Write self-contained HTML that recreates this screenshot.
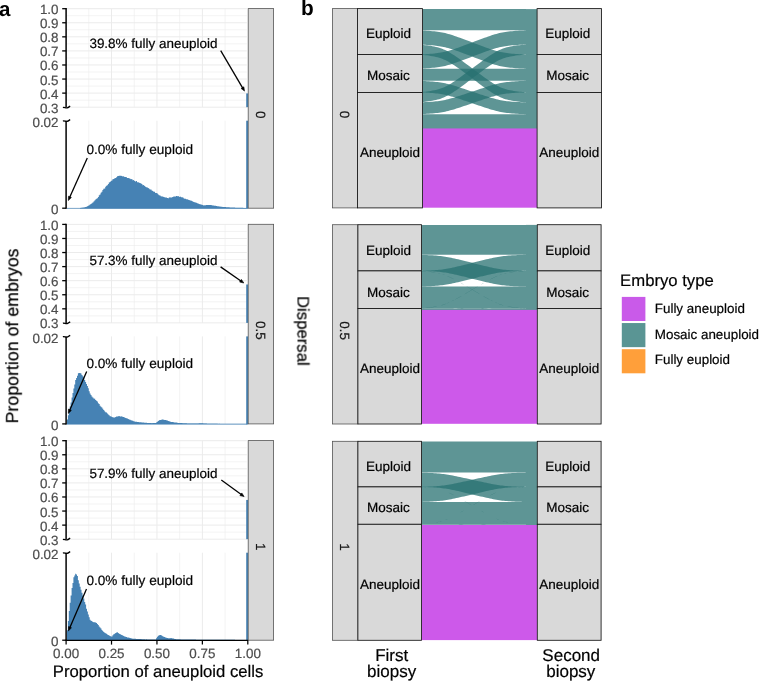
<!DOCTYPE html>
<html><head><meta charset="utf-8"><title>Figure</title>
<style>
html,body{margin:0;padding:0;background:#fff;}
body{width:759px;height:681px;overflow:hidden;font-family:"Liberation Sans",sans-serif;}
svg{display:block;will-change:transform;}
</style></head><body>
<svg width="759" height="681" viewBox="0 0 759 681">
<rect width="759" height="681" fill="#fff"/>
<defs><clipPath id="fc"><rect x="422.9" y="0" width="103.1" height="681"/></clipPath></defs>
<g font-family="Liberation Sans, sans-serif" style="opacity:0.999" text-rendering="geometricPrecision">
<line x1="66.70" y1="8.70" x2="246.80" y2="8.70" stroke="#EBEBEB" stroke-width="1.0" stroke-linecap="butt"/>
<line x1="66.70" y1="15.73" x2="246.80" y2="15.73" stroke="#EBEBEB" stroke-width="0.6" stroke-linecap="butt"/>
<line x1="66.70" y1="22.77" x2="246.80" y2="22.77" stroke="#EBEBEB" stroke-width="1.0" stroke-linecap="butt"/>
<line x1="66.70" y1="29.80" x2="246.80" y2="29.80" stroke="#EBEBEB" stroke-width="0.6" stroke-linecap="butt"/>
<line x1="66.70" y1="36.84" x2="246.80" y2="36.84" stroke="#EBEBEB" stroke-width="1.0" stroke-linecap="butt"/>
<line x1="66.70" y1="43.88" x2="246.80" y2="43.88" stroke="#EBEBEB" stroke-width="0.6" stroke-linecap="butt"/>
<line x1="66.70" y1="50.91" x2="246.80" y2="50.91" stroke="#EBEBEB" stroke-width="1.0" stroke-linecap="butt"/>
<line x1="66.70" y1="57.95" x2="246.80" y2="57.95" stroke="#EBEBEB" stroke-width="0.6" stroke-linecap="butt"/>
<line x1="66.70" y1="64.98" x2="246.80" y2="64.98" stroke="#EBEBEB" stroke-width="1.0" stroke-linecap="butt"/>
<line x1="66.70" y1="72.02" x2="246.80" y2="72.02" stroke="#EBEBEB" stroke-width="0.6" stroke-linecap="butt"/>
<line x1="66.70" y1="79.05" x2="246.80" y2="79.05" stroke="#EBEBEB" stroke-width="1.0" stroke-linecap="butt"/>
<line x1="66.70" y1="86.09" x2="246.80" y2="86.09" stroke="#EBEBEB" stroke-width="0.6" stroke-linecap="butt"/>
<line x1="66.70" y1="93.12" x2="246.80" y2="93.12" stroke="#EBEBEB" stroke-width="1.0" stroke-linecap="butt"/>
<line x1="66.70" y1="100.16" x2="246.80" y2="100.16" stroke="#EBEBEB" stroke-width="0.6" stroke-linecap="butt"/>
<line x1="66.70" y1="107.19" x2="246.80" y2="107.19" stroke="#EBEBEB" stroke-width="1.0" stroke-linecap="butt"/>
<line x1="88.81" y1="8.70" x2="88.81" y2="107.20" stroke="#EBEBEB" stroke-width="0.6" stroke-linecap="butt"/>
<line x1="88.81" y1="120.70" x2="88.81" y2="208.20" stroke="#EBEBEB" stroke-width="0.6" stroke-linecap="butt"/>
<line x1="111.52" y1="8.70" x2="111.52" y2="107.20" stroke="#EBEBEB" stroke-width="1.0" stroke-linecap="butt"/>
<line x1="111.52" y1="120.70" x2="111.52" y2="208.20" stroke="#EBEBEB" stroke-width="1.0" stroke-linecap="butt"/>
<line x1="134.24" y1="8.70" x2="134.24" y2="107.20" stroke="#EBEBEB" stroke-width="0.6" stroke-linecap="butt"/>
<line x1="134.24" y1="120.70" x2="134.24" y2="208.20" stroke="#EBEBEB" stroke-width="0.6" stroke-linecap="butt"/>
<line x1="156.95" y1="8.70" x2="156.95" y2="107.20" stroke="#EBEBEB" stroke-width="1.0" stroke-linecap="butt"/>
<line x1="156.95" y1="120.70" x2="156.95" y2="208.20" stroke="#EBEBEB" stroke-width="1.0" stroke-linecap="butt"/>
<line x1="179.66" y1="8.70" x2="179.66" y2="107.20" stroke="#EBEBEB" stroke-width="0.6" stroke-linecap="butt"/>
<line x1="179.66" y1="120.70" x2="179.66" y2="208.20" stroke="#EBEBEB" stroke-width="0.6" stroke-linecap="butt"/>
<line x1="202.37" y1="8.70" x2="202.37" y2="107.20" stroke="#EBEBEB" stroke-width="1.0" stroke-linecap="butt"/>
<line x1="202.37" y1="120.70" x2="202.37" y2="208.20" stroke="#EBEBEB" stroke-width="1.0" stroke-linecap="butt"/>
<line x1="225.09" y1="8.70" x2="225.09" y2="107.20" stroke="#EBEBEB" stroke-width="0.6" stroke-linecap="butt"/>
<line x1="225.09" y1="120.70" x2="225.09" y2="208.20" stroke="#EBEBEB" stroke-width="0.6" stroke-linecap="butt"/>
<path d="M80.0,208.6 L80.0,207.9 L80.6,207.9 L80.6,207.8 L81.5,207.8 L81.5,207.7 L82.5,207.7 L82.5,207.5 L83.4,207.5 L83.4,207.4 L84.3,207.4 L84.3,207.2 L85.2,207.2 L85.2,206.9 L86.1,206.9 L86.1,206.7 L87.0,206.7 L87.0,206.3 L87.9,206.3 L87.9,205.7 L88.8,205.7 L88.8,205.2 L89.7,205.2 L89.7,204.5 L90.6,204.5 L90.6,204.0 L91.5,204.0 L91.5,203.3 L92.4,203.3 L92.4,202.5 L93.4,202.5 L93.4,201.6 L94.3,201.6 L94.3,200.4 L95.2,200.4 L95.2,199.6 L96.1,199.6 L96.1,198.7 L97.0,198.7 L97.0,198.3 L97.9,198.3 L97.9,197.0 L98.8,197.0 L98.8,195.3 L99.7,195.3 L99.7,194.5 L100.6,194.5 L100.6,192.7 L101.5,192.7 L101.5,191.8 L102.4,191.8 L102.4,190.1 L103.3,190.1 L103.3,188.8 L104.3,188.8 L104.3,188.4 L105.2,188.4 L105.2,186.8 L106.1,186.8 L106.1,185.7 L107.0,185.7 L107.0,185.2 L107.9,185.2 L107.9,184.0 L108.8,184.0 L108.8,182.4 L109.7,182.4 L109.7,182.1 L110.6,182.1 L110.6,181.0 L111.5,181.0 L111.5,180.4 L112.4,180.4 L112.4,179.3 L113.3,179.3 L113.3,179.1 L114.3,179.1 L114.3,178.3 L115.2,178.3 L115.2,177.9 L116.1,177.9 L116.1,177.2 L117.0,177.2 L117.0,176.3 L117.9,176.3 L117.9,176.0 L118.8,176.0 L118.8,175.7 L119.7,175.7 L119.7,175.8 L120.6,175.8 L120.6,175.8 L121.5,175.8 L121.5,176.1 L122.4,176.1 L122.4,176.6 L123.3,176.6 L123.3,176.2 L124.2,176.2 L124.2,177.0 L125.2,177.0 L125.2,177.0 L126.1,177.0 L126.1,177.3 L127.0,177.3 L127.0,178.0 L127.9,178.0 L127.9,178.1 L128.8,178.1 L128.8,178.3 L129.7,178.3 L129.7,178.7 L130.6,178.7 L130.6,179.2 L131.5,179.2 L131.5,179.1 L132.4,179.1 L132.4,180.2 L133.3,180.2 L133.3,179.9 L134.2,179.9 L134.2,180.9 L135.1,180.9 L135.1,181.4 L136.1,181.4 L136.1,181.1 L137.0,181.1 L137.0,182.2 L137.9,182.2 L137.9,182.2 L138.8,182.2 L138.8,182.8 L139.7,182.8 L139.7,182.9 L140.6,182.9 L140.6,183.4 L141.5,183.4 L141.5,184.1 L142.4,184.1 L142.4,185.2 L143.3,185.2 L143.3,185.1 L144.2,185.1 L144.2,186.1 L145.1,186.1 L145.1,186.8 L146.0,186.8 L146.0,187.3 L147.0,187.3 L147.0,187.4 L147.9,187.4 L147.9,188.0 L148.8,188.0 L148.8,188.7 L149.7,188.7 L149.7,189.4 L150.6,189.4 L150.6,189.5 L151.5,189.5 L151.5,190.5 L152.4,190.5 L152.4,191.1 L153.3,191.1 L153.3,191.8 L154.2,191.8 L154.2,191.7 L155.1,191.7 L155.1,193.0 L156.0,193.0 L156.0,192.9 L156.9,192.9 L156.9,193.6 L157.9,193.6 L157.9,194.4 L158.8,194.4 L158.8,195.3 L159.7,195.3 L159.7,195.4 L160.6,195.4 L160.6,196.3 L161.5,196.3 L161.5,196.4 L162.4,196.4 L162.4,196.6 L163.3,196.6 L163.3,197.0 L164.2,197.0 L164.2,197.3 L165.1,197.3 L165.1,197.4 L166.0,197.4 L166.0,197.6 L166.9,197.6 L166.9,198.1 L167.9,198.1 L167.9,198.2 L168.8,198.2 L168.8,197.4 L169.7,197.4 L169.7,197.2 L170.6,197.2 L170.6,197.8 L171.5,197.8 L171.5,197.3 L172.4,197.3 L172.4,196.9 L173.3,196.9 L173.3,196.5 L174.2,196.5 L174.2,196.4 L175.1,196.4 L175.1,196.4 L176.0,196.4 L176.0,196.1 L176.9,196.1 L176.9,196.2 L177.8,196.2 L177.8,196.0 L178.8,196.0 L178.8,196.9 L179.7,196.9 L179.7,196.4 L180.6,196.4 L180.6,196.9 L181.5,196.9 L181.5,197.5 L182.4,197.5 L182.4,197.3 L183.3,197.3 L183.3,198.2 L184.2,198.2 L184.2,198.7 L185.1,198.7 L185.1,198.8 L186.0,198.8 L186.0,199.3 L186.9,199.3 L186.9,199.2 L187.8,199.2 L187.8,199.7 L188.7,199.7 L188.7,199.9 L189.7,199.9 L189.7,200.6 L190.6,200.6 L190.6,200.6 L191.5,200.6 L191.5,201.0 L192.4,201.0 L192.4,201.6 L193.3,201.6 L193.3,201.9 L194.2,201.9 L194.2,202.3 L195.1,202.3 L195.1,202.4 L196.0,202.4 L196.0,202.8 L196.9,202.8 L196.9,203.3 L197.8,203.3 L197.8,203.6 L198.7,203.6 L198.7,203.9 L199.6,203.9 L199.6,204.2 L200.6,204.2 L200.6,204.4 L201.5,204.4 L201.5,204.7 L202.4,204.7 L202.4,205.1 L203.3,205.1 L203.3,205.4 L204.2,205.4 L204.2,205.3 L205.1,205.3 L205.1,205.2 L206.0,205.2 L206.0,205.0 L206.9,205.0 L206.9,204.9 L207.8,204.9 L207.8,204.9 L208.7,204.9 L208.7,205.0 L209.6,205.0 L209.6,205.1 L210.6,205.1 L210.6,205.1 L211.5,205.1 L211.5,205.3 L212.4,205.3 L212.4,205.4 L213.3,205.4 L213.3,205.5 L214.2,205.5 L214.2,205.7 L215.1,205.7 L215.1,205.8 L216.0,205.8 L216.0,205.9 L216.9,205.9 L216.9,206.2 L217.8,206.2 L217.8,206.3 L218.7,206.3 L218.7,206.5 L219.6,206.5 L219.6,206.6 L220.5,206.6 L220.5,206.7 L221.5,206.7 L221.5,206.7 L222.4,206.7 L222.4,206.9 L223.3,206.9 L223.3,206.9 L224.2,206.9 L224.2,207.0 L225.1,207.0 L225.1,207.1 L226.0,207.1 L226.0,207.2 L226.9,207.2 L226.9,207.2 L227.8,207.2 L227.8,207.3 L228.7,207.3 L228.7,207.3 L229.6,207.3 L229.6,207.4 L230.5,207.4 L230.5,207.4 L231.4,207.4 L231.4,207.5 L232.4,207.5 L232.4,207.5 L233.3,207.5 L233.3,207.6 L234.2,207.6 L234.2,207.6 L235.1,207.6 L235.1,207.7 L236.0,207.7 L236.0,207.7 L236.9,207.7 L236.9,207.7 L237.8,207.7 L237.8,207.8 L238.7,207.8 L238.7,207.8 L239.6,207.8 L239.6,207.8 L240.5,207.8 L240.5,207.8 L241.4,207.8 L241.4,207.8 L242.3,207.8 L242.3,207.8 L243.3,207.8 L243.3,207.9 L244.2,207.9 L244.2,207.9 L245.1,207.9 L245.1,207.9 L246.0,207.9 L246.0,207.9 L246.0,207.9 L246.0,208.6 Z" fill="#4682B4"/>
<rect x="66.5" y="207.90" width="181" height="0.9" fill="#4682B4" opacity="0.8"/>
<rect x="246.2" y="93.40" width="2.0" height="13.80" fill="#4682B4"/>
<rect x="246.2" y="120.70" width="2.0" height="88.00" fill="#4682B4"/>
<line x1="66.10" y1="8.05" x2="66.10" y2="107.20" stroke="#000" stroke-width="1.5" stroke-linecap="butt"/>
<line x1="66.10" y1="120.70" x2="66.10" y2="208.85" stroke="#000" stroke-width="1.5" stroke-linecap="butt"/>
<line x1="62.20" y1="8.70" x2="66.10" y2="8.70" stroke="#000" stroke-width="1.3" stroke-linecap="butt"/>
<line x1="62.20" y1="22.77" x2="66.10" y2="22.77" stroke="#000" stroke-width="1.3" stroke-linecap="butt"/>
<line x1="62.20" y1="36.84" x2="66.10" y2="36.84" stroke="#000" stroke-width="1.3" stroke-linecap="butt"/>
<line x1="62.20" y1="50.91" x2="66.10" y2="50.91" stroke="#000" stroke-width="1.3" stroke-linecap="butt"/>
<line x1="62.20" y1="64.98" x2="66.10" y2="64.98" stroke="#000" stroke-width="1.3" stroke-linecap="butt"/>
<line x1="62.20" y1="79.05" x2="66.10" y2="79.05" stroke="#000" stroke-width="1.3" stroke-linecap="butt"/>
<line x1="62.20" y1="93.12" x2="66.10" y2="93.12" stroke="#000" stroke-width="1.3" stroke-linecap="butt"/>
<line x1="62.20" y1="208.20" x2="66.10" y2="208.20" stroke="#000" stroke-width="1.3" stroke-linecap="butt"/>
<path d="M62.9,107.55 C64.5,107.10 65.6,108.30 67.2,107.90 C68.4,107.60 69.2,106.70 70.2,106.20" fill="none" stroke="#000" stroke-width="1.3"/>
<path d="M62.9,121.05 C64.5,120.60 65.6,121.80 67.2,121.40 C68.4,121.10 69.2,120.20 70.2,119.70" fill="none" stroke="#000" stroke-width="1.3"/>
<text x="58.5" y="14.2" font-size="13.4" fill="#4D4D4D" stroke="#4D4D4D" stroke-width="0.2" text-anchor="end" >1.0</text>
<text x="58.5" y="28.27" font-size="13.4" fill="#4D4D4D" stroke="#4D4D4D" stroke-width="0.2" text-anchor="end" >0.9</text>
<text x="58.5" y="42.34" font-size="13.4" fill="#4D4D4D" stroke="#4D4D4D" stroke-width="0.2" text-anchor="end" >0.8</text>
<text x="58.5" y="56.41" font-size="13.4" fill="#4D4D4D" stroke="#4D4D4D" stroke-width="0.2" text-anchor="end" >0.7</text>
<text x="58.5" y="70.48" font-size="13.4" fill="#4D4D4D" stroke="#4D4D4D" stroke-width="0.2" text-anchor="end" >0.6</text>
<text x="58.5" y="84.55" font-size="13.4" fill="#4D4D4D" stroke="#4D4D4D" stroke-width="0.2" text-anchor="end" >0.5</text>
<text x="58.5" y="98.62" font-size="13.4" fill="#4D4D4D" stroke="#4D4D4D" stroke-width="0.2" text-anchor="end" >0.4</text>
<text x="58.5" y="112.69000000000001" font-size="13.4" fill="#4D4D4D" stroke="#4D4D4D" stroke-width="0.2" text-anchor="end" >0.3</text>
<text x="58.5" y="127.0" font-size="13.4" fill="#4D4D4D" stroke="#4D4D4D" stroke-width="0.2" text-anchor="end" >0.02</text>
<text x="58.5" y="213.79999999999998" font-size="13.4" fill="#4D4D4D" stroke="#4D4D4D" stroke-width="0.2" text-anchor="end" >0</text>
<rect x="248.2" y="8.60" width="25.40" height="199.60" fill="#D9D9D9" stroke="#555" stroke-width="0.8"/>
<text x="255.9" y="114.65" font-size="13.4" fill="#1a1a1a" stroke="#1a1a1a" stroke-width="0.2" text-anchor="middle" transform="rotate(90 255.9 114.65)" >0</text>
<text x="89.4" y="48.1" font-size="13.48" fill="#000" stroke="#000" stroke-width="0.2" text-anchor="start" >39.8% fully aneuploid</text>
<line x1="220.70" y1="50.60" x2="242.73" y2="88.08" stroke="#000" stroke-width="1.3" stroke-linecap="butt"/>
<polygon points="244.50,91.10 241.09,88.46 243.85,86.84" fill="#000" stroke="#000" stroke-width="0.6" stroke-linejoin="miter"/>
<text x="86.4" y="154.0" font-size="13.62" fill="#000" stroke="#000" stroke-width="0.2" text-anchor="start" >0.0% fully euploid</text>
<line x1="87.30" y1="158.10" x2="69.73" y2="197.31" stroke="#000" stroke-width="1.3" stroke-linecap="butt"/>
<polygon points="68.30,200.50 68.48,196.20 71.40,197.50" fill="#000" stroke="#000" stroke-width="0.6" stroke-linejoin="miter"/>
<line x1="66.70" y1="224.40" x2="246.80" y2="224.40" stroke="#EBEBEB" stroke-width="1.0" stroke-linecap="butt"/>
<line x1="66.70" y1="231.44" x2="246.80" y2="231.44" stroke="#EBEBEB" stroke-width="0.6" stroke-linecap="butt"/>
<line x1="66.70" y1="238.47" x2="246.80" y2="238.47" stroke="#EBEBEB" stroke-width="1.0" stroke-linecap="butt"/>
<line x1="66.70" y1="245.50" x2="246.80" y2="245.50" stroke="#EBEBEB" stroke-width="0.6" stroke-linecap="butt"/>
<line x1="66.70" y1="252.54" x2="246.80" y2="252.54" stroke="#EBEBEB" stroke-width="1.0" stroke-linecap="butt"/>
<line x1="66.70" y1="259.57" x2="246.80" y2="259.57" stroke="#EBEBEB" stroke-width="0.6" stroke-linecap="butt"/>
<line x1="66.70" y1="266.61" x2="246.80" y2="266.61" stroke="#EBEBEB" stroke-width="1.0" stroke-linecap="butt"/>
<line x1="66.70" y1="273.64" x2="246.80" y2="273.64" stroke="#EBEBEB" stroke-width="0.6" stroke-linecap="butt"/>
<line x1="66.70" y1="280.68" x2="246.80" y2="280.68" stroke="#EBEBEB" stroke-width="1.0" stroke-linecap="butt"/>
<line x1="66.70" y1="287.72" x2="246.80" y2="287.72" stroke="#EBEBEB" stroke-width="0.6" stroke-linecap="butt"/>
<line x1="66.70" y1="294.75" x2="246.80" y2="294.75" stroke="#EBEBEB" stroke-width="1.0" stroke-linecap="butt"/>
<line x1="66.70" y1="301.79" x2="246.80" y2="301.79" stroke="#EBEBEB" stroke-width="0.6" stroke-linecap="butt"/>
<line x1="66.70" y1="308.82" x2="246.80" y2="308.82" stroke="#EBEBEB" stroke-width="1.0" stroke-linecap="butt"/>
<line x1="66.70" y1="315.86" x2="246.80" y2="315.86" stroke="#EBEBEB" stroke-width="0.6" stroke-linecap="butt"/>
<line x1="66.70" y1="322.89" x2="246.80" y2="322.89" stroke="#EBEBEB" stroke-width="1.0" stroke-linecap="butt"/>
<line x1="88.81" y1="224.40" x2="88.81" y2="322.90" stroke="#EBEBEB" stroke-width="0.6" stroke-linecap="butt"/>
<line x1="88.81" y1="336.40" x2="88.81" y2="423.90" stroke="#EBEBEB" stroke-width="0.6" stroke-linecap="butt"/>
<line x1="111.52" y1="224.40" x2="111.52" y2="322.90" stroke="#EBEBEB" stroke-width="1.0" stroke-linecap="butt"/>
<line x1="111.52" y1="336.40" x2="111.52" y2="423.90" stroke="#EBEBEB" stroke-width="1.0" stroke-linecap="butt"/>
<line x1="134.24" y1="224.40" x2="134.24" y2="322.90" stroke="#EBEBEB" stroke-width="0.6" stroke-linecap="butt"/>
<line x1="134.24" y1="336.40" x2="134.24" y2="423.90" stroke="#EBEBEB" stroke-width="0.6" stroke-linecap="butt"/>
<line x1="156.95" y1="224.40" x2="156.95" y2="322.90" stroke="#EBEBEB" stroke-width="1.0" stroke-linecap="butt"/>
<line x1="156.95" y1="336.40" x2="156.95" y2="423.90" stroke="#EBEBEB" stroke-width="1.0" stroke-linecap="butt"/>
<line x1="179.66" y1="224.40" x2="179.66" y2="322.90" stroke="#EBEBEB" stroke-width="0.6" stroke-linecap="butt"/>
<line x1="179.66" y1="336.40" x2="179.66" y2="423.90" stroke="#EBEBEB" stroke-width="0.6" stroke-linecap="butt"/>
<line x1="202.37" y1="224.40" x2="202.37" y2="322.90" stroke="#EBEBEB" stroke-width="1.0" stroke-linecap="butt"/>
<line x1="202.37" y1="336.40" x2="202.37" y2="423.90" stroke="#EBEBEB" stroke-width="1.0" stroke-linecap="butt"/>
<line x1="225.09" y1="224.40" x2="225.09" y2="322.90" stroke="#EBEBEB" stroke-width="0.6" stroke-linecap="butt"/>
<line x1="225.09" y1="336.40" x2="225.09" y2="423.90" stroke="#EBEBEB" stroke-width="0.6" stroke-linecap="butt"/>
<path d="M66.6,424.3 L66.6,423.6 L67.0,423.6 L67.0,419.6 L67.9,419.6 L67.9,415.3 L68.8,415.3 L68.8,411.1 L69.7,411.1 L69.7,406.6 L70.6,406.6 L70.6,402.4 L71.6,402.4 L71.6,397.6 L72.5,397.6 L72.5,393.1 L73.4,393.1 L73.4,388.5 L74.3,388.5 L74.3,384.6 L75.2,384.6 L75.2,380.1 L76.1,380.1 L76.1,377.9 L77.0,377.9 L77.0,375.7 L77.9,375.7 L77.9,373.2 L78.8,373.2 L78.8,373.1 L79.7,373.1 L79.7,373.1 L80.6,373.1 L80.6,373.5 L81.5,373.5 L81.5,374.9 L82.5,374.9 L82.5,376.2 L83.4,376.2 L83.4,377.6 L84.3,377.6 L84.3,380.0 L85.2,380.0 L85.2,381.9 L86.1,381.9 L86.1,384.1 L87.0,384.1 L87.0,386.1 L87.9,386.1 L87.9,388.3 L88.8,388.3 L88.8,391.3 L89.7,391.3 L89.7,393.4 L90.6,393.4 L90.6,394.9 L91.5,394.9 L91.5,396.4 L92.4,396.4 L92.4,397.5 L93.4,397.5 L93.4,398.4 L94.3,398.4 L94.3,398.7 L95.2,398.7 L95.2,399.9 L96.1,399.9 L96.1,400.8 L97.0,400.8 L97.0,401.6 L97.9,401.6 L97.9,403.2 L98.8,403.2 L98.8,404.1 L99.7,404.1 L99.7,405.7 L100.6,405.7 L100.6,406.8 L101.5,406.8 L101.5,407.6 L102.4,407.6 L102.4,408.8 L103.3,408.8 L103.3,410.0 L104.3,410.0 L104.3,411.2 L105.2,411.2 L105.2,412.3 L106.1,412.3 L106.1,412.4 L107.0,412.4 L107.0,413.5 L107.9,413.5 L107.9,414.5 L108.8,414.5 L108.8,415.2 L109.7,415.2 L109.7,416.2 L110.6,416.2 L110.6,416.3 L111.5,416.3 L111.5,417.1 L112.4,417.1 L112.4,417.3 L113.3,417.3 L113.3,417.4 L114.3,417.4 L114.3,417.5 L115.2,417.5 L115.2,416.9 L116.1,416.9 L116.1,416.5 L117.0,416.5 L117.0,416.5 L117.9,416.5 L117.9,416.2 L118.8,416.2 L118.8,416.1 L119.7,416.1 L119.7,416.4 L120.6,416.4 L120.6,416.4 L121.5,416.4 L121.5,416.3 L122.4,416.3 L122.4,417.0 L123.3,417.0 L123.3,416.9 L124.2,416.9 L124.2,417.4 L125.2,417.4 L125.2,418.0 L126.1,418.0 L126.1,418.3 L127.0,418.3 L127.0,418.6 L127.9,418.6 L127.9,419.0 L128.8,419.0 L128.8,419.4 L129.7,419.4 L129.7,419.7 L130.6,419.7 L130.6,420.3 L131.5,420.3 L131.5,420.4 L132.4,420.4 L132.4,420.8 L133.3,420.8 L133.3,421.3 L134.2,421.3 L134.2,421.5 L135.1,421.5 L135.1,421.8 L136.1,421.8 L136.1,421.8 L137.0,421.8 L137.0,422.0 L137.9,422.0 L137.9,422.1 L138.8,422.1 L138.8,422.2 L139.7,422.2 L139.7,422.3 L140.6,422.3 L140.6,422.3 L141.5,422.3 L141.5,422.5 L142.4,422.5 L142.4,422.6 L143.3,422.6 L143.3,422.6 L144.2,422.6 L144.2,422.7 L145.1,422.7 L145.1,422.8 L146.0,422.8 L146.0,422.8 L147.0,422.8 L147.0,422.9 L147.9,422.9 L147.9,423.0 L148.8,423.0 L148.8,423.0 L149.7,423.0 L149.7,423.1 L150.6,423.1 L150.6,423.1 L151.5,423.1 L151.5,423.2 L152.4,423.2 L152.4,423.1 L153.3,423.1 L153.3,423.1 L154.2,423.1 L154.2,423.1 L155.1,423.1 L155.1,423.0 L156.0,423.0 L156.0,422.5 L156.9,422.5 L156.9,421.8 L157.9,421.8 L157.9,421.1 L158.8,421.1 L158.8,420.2 L159.7,420.2 L159.7,420.0 L160.6,420.0 L160.6,419.9 L161.5,419.9 L161.5,419.6 L162.4,419.6 L162.4,419.4 L163.3,419.4 L163.3,419.7 L164.2,419.7 L164.2,419.9 L165.1,419.9 L165.1,420.0 L166.0,420.0 L166.0,420.3 L166.9,420.3 L166.9,420.6 L167.9,420.6 L167.9,421.0 L168.8,421.0 L168.8,421.2 L169.7,421.2 L169.7,421.6 L170.6,421.6 L170.6,422.0 L171.5,422.0 L171.5,422.1 L172.4,422.1 L172.4,422.1 L173.3,422.1 L173.3,422.3 L174.2,422.3 L174.2,422.4 L175.1,422.4 L175.1,422.5 L176.0,422.5 L176.0,422.6 L176.9,422.6 L176.9,422.8 L177.8,422.8 L177.8,422.9 L178.8,422.9 L178.8,423.0 L179.7,423.0 L179.7,423.0 L180.6,423.0 L180.6,423.1 L181.5,423.1 L181.5,423.1 L182.4,423.1 L182.4,423.2 L183.3,423.2 L183.3,423.2 L184.2,423.2 L184.2,423.2 L185.1,423.2 L185.1,423.3 L186.0,423.3 L186.0,423.3 L186.9,423.3 L186.9,423.4 L187.8,423.4 L187.8,423.5 L188.7,423.5 L188.7,423.5 L189.7,423.5 L189.7,423.5 L190.6,423.5 L190.6,423.5 L191.5,423.5 L191.5,423.5 L192.4,423.5 L192.4,423.4 L193.3,423.4 L193.3,423.4 L194.2,423.4 L194.2,423.4 L195.1,423.4 L195.1,423.4 L196.0,423.4 L196.0,423.4 L196.9,423.4 L196.9,423.4 L197.8,423.4 L197.8,423.4 L198.7,423.4 L198.7,423.3 L199.6,423.3 L199.6,423.3 L200.6,423.3 L200.6,423.3 L201.5,423.3 L201.5,423.3 L202.4,423.3 L202.4,423.3 L203.3,423.3 L203.3,423.4 L204.2,423.4 L204.2,423.4 L205.1,423.4 L205.1,423.5 L206.0,423.5 L206.0,423.6 L206.9,423.6 L206.9,423.7 L207.8,423.7 L207.8,423.7 L208.7,423.7 L208.7,423.8 L209.6,423.8 L209.6,423.8 L210.6,423.8 L210.6,423.8 L211.5,423.8 L211.5,423.8 L212.4,423.8 L212.4,423.8 L213.3,423.8 L213.3,423.8 L214.2,423.8 L214.2,423.8 L215.1,423.8 L215.1,423.8 L216.0,423.8 L216.0,423.8 L216.9,423.8 L216.9,423.8 L217.8,423.8 L217.8,423.9 L218.7,423.9 L218.7,423.8 L219.6,423.8 L219.6,423.9 L220.5,423.9 L220.5,423.9 L221.5,423.9 L221.5,423.9 L222.4,423.9 L222.4,423.9 L223.3,423.9 L223.3,423.9 L224.2,423.9 L224.2,423.9 L225.1,423.9 L225.1,423.9 L226.0,423.9 L226.0,423.9 L226.9,423.9 L226.9,423.9 L227.8,423.9 L227.8,423.9 L228.7,423.9 L228.7,423.9 L229.6,423.9 L229.6,423.9 L230.5,423.9 L230.5,423.9 L231.4,423.9 L231.4,423.9 L232.4,423.9 L232.4,423.9 L233.3,423.9 L233.3,423.9 L234.2,423.9 L234.2,423.9 L235.1,423.9 L235.1,423.9 L236.0,423.9 L236.0,423.9 L236.9,423.9 L236.9,423.9 L237.8,423.9 L237.8,424.0 L238.7,424.0 L238.7,424.0 L239.6,424.0 L239.6,424.0 L240.5,424.0 L240.5,424.0 L241.4,424.0 L241.4,424.0 L242.3,424.0 L242.3,424.0 L243.3,424.0 L243.3,424.0 L244.2,424.0 L244.2,424.0 L245.1,424.0 L245.1,424.0 L246.0,424.0 L246.0,424.0 L246.8,424.0 L246.8,424.3 Z" fill="#4682B4"/>
<rect x="66.5" y="423.60" width="181" height="0.9" fill="#4682B4" opacity="0.8"/>
<rect x="246.2" y="284.48" width="2.0" height="38.42" fill="#4682B4"/>
<rect x="246.2" y="336.40" width="2.0" height="88.00" fill="#4682B4"/>
<line x1="66.10" y1="223.75" x2="66.10" y2="322.90" stroke="#000" stroke-width="1.5" stroke-linecap="butt"/>
<line x1="66.10" y1="336.40" x2="66.10" y2="424.55" stroke="#000" stroke-width="1.5" stroke-linecap="butt"/>
<line x1="62.20" y1="224.40" x2="66.10" y2="224.40" stroke="#000" stroke-width="1.3" stroke-linecap="butt"/>
<line x1="62.20" y1="238.47" x2="66.10" y2="238.47" stroke="#000" stroke-width="1.3" stroke-linecap="butt"/>
<line x1="62.20" y1="252.54" x2="66.10" y2="252.54" stroke="#000" stroke-width="1.3" stroke-linecap="butt"/>
<line x1="62.20" y1="266.61" x2="66.10" y2="266.61" stroke="#000" stroke-width="1.3" stroke-linecap="butt"/>
<line x1="62.20" y1="280.68" x2="66.10" y2="280.68" stroke="#000" stroke-width="1.3" stroke-linecap="butt"/>
<line x1="62.20" y1="294.75" x2="66.10" y2="294.75" stroke="#000" stroke-width="1.3" stroke-linecap="butt"/>
<line x1="62.20" y1="308.82" x2="66.10" y2="308.82" stroke="#000" stroke-width="1.3" stroke-linecap="butt"/>
<line x1="62.20" y1="423.90" x2="66.10" y2="423.90" stroke="#000" stroke-width="1.3" stroke-linecap="butt"/>
<path d="M62.9,323.25 C64.5,322.80 65.6,324.00 67.2,323.60 C68.4,323.30 69.2,322.40 70.2,321.90" fill="none" stroke="#000" stroke-width="1.3"/>
<path d="M62.9,336.75 C64.5,336.30 65.6,337.50 67.2,337.10 C68.4,336.80 69.2,335.90 70.2,335.40" fill="none" stroke="#000" stroke-width="1.3"/>
<text x="58.5" y="229.9" font-size="13.4" fill="#4D4D4D" stroke="#4D4D4D" stroke-width="0.2" text-anchor="end" >1.0</text>
<text x="58.5" y="243.97" font-size="13.4" fill="#4D4D4D" stroke="#4D4D4D" stroke-width="0.2" text-anchor="end" >0.9</text>
<text x="58.5" y="258.04" font-size="13.4" fill="#4D4D4D" stroke="#4D4D4D" stroke-width="0.2" text-anchor="end" >0.8</text>
<text x="58.5" y="272.11" font-size="13.4" fill="#4D4D4D" stroke="#4D4D4D" stroke-width="0.2" text-anchor="end" >0.7</text>
<text x="58.5" y="286.18" font-size="13.4" fill="#4D4D4D" stroke="#4D4D4D" stroke-width="0.2" text-anchor="end" >0.6</text>
<text x="58.5" y="300.25" font-size="13.4" fill="#4D4D4D" stroke="#4D4D4D" stroke-width="0.2" text-anchor="end" >0.5</text>
<text x="58.5" y="314.32" font-size="13.4" fill="#4D4D4D" stroke="#4D4D4D" stroke-width="0.2" text-anchor="end" >0.4</text>
<text x="58.5" y="328.39" font-size="13.4" fill="#4D4D4D" stroke="#4D4D4D" stroke-width="0.2" text-anchor="end" >0.3</text>
<text x="58.5" y="342.7" font-size="13.4" fill="#4D4D4D" stroke="#4D4D4D" stroke-width="0.2" text-anchor="end" >0.02</text>
<text x="58.5" y="429.5" font-size="13.4" fill="#4D4D4D" stroke="#4D4D4D" stroke-width="0.2" text-anchor="end" >0</text>
<rect x="248.2" y="224.30" width="25.40" height="199.60" fill="#D9D9D9" stroke="#555" stroke-width="0.8"/>
<text x="255.9" y="330.34999999999997" font-size="13.4" fill="#1a1a1a" stroke="#1a1a1a" stroke-width="0.2" text-anchor="middle" transform="rotate(90 255.9 330.34999999999997)" >0.5</text>
<text x="89.4" y="264.8" font-size="13.48" fill="#000" stroke="#000" stroke-width="0.2" text-anchor="start" >57.3% fully aneuploid</text>
<line x1="220.60" y1="266.90" x2="240.92" y2="281.00" stroke="#000" stroke-width="1.3" stroke-linecap="butt"/>
<polygon points="243.80,283.00 239.60,282.03 241.43,279.40" fill="#000" stroke="#000" stroke-width="0.6" stroke-linejoin="miter"/>
<text x="86.4" y="367.8" font-size="13.62" fill="#000" stroke="#000" stroke-width="0.2" text-anchor="start" >0.0% fully euploid</text>
<line x1="86.70" y1="371.50" x2="69.71" y2="410.20" stroke="#000" stroke-width="1.3" stroke-linecap="butt"/>
<polygon points="68.30,413.40 68.44,409.09 71.37,410.38" fill="#000" stroke="#000" stroke-width="0.6" stroke-linejoin="miter"/>
<line x1="66.70" y1="440.70" x2="246.80" y2="440.70" stroke="#EBEBEB" stroke-width="1.0" stroke-linecap="butt"/>
<line x1="66.70" y1="447.74" x2="246.80" y2="447.74" stroke="#EBEBEB" stroke-width="0.6" stroke-linecap="butt"/>
<line x1="66.70" y1="454.77" x2="246.80" y2="454.77" stroke="#EBEBEB" stroke-width="1.0" stroke-linecap="butt"/>
<line x1="66.70" y1="461.81" x2="246.80" y2="461.81" stroke="#EBEBEB" stroke-width="0.6" stroke-linecap="butt"/>
<line x1="66.70" y1="468.84" x2="246.80" y2="468.84" stroke="#EBEBEB" stroke-width="1.0" stroke-linecap="butt"/>
<line x1="66.70" y1="475.88" x2="246.80" y2="475.88" stroke="#EBEBEB" stroke-width="0.6" stroke-linecap="butt"/>
<line x1="66.70" y1="482.91" x2="246.80" y2="482.91" stroke="#EBEBEB" stroke-width="1.0" stroke-linecap="butt"/>
<line x1="66.70" y1="489.94" x2="246.80" y2="489.94" stroke="#EBEBEB" stroke-width="0.6" stroke-linecap="butt"/>
<line x1="66.70" y1="496.98" x2="246.80" y2="496.98" stroke="#EBEBEB" stroke-width="1.0" stroke-linecap="butt"/>
<line x1="66.70" y1="504.01" x2="246.80" y2="504.01" stroke="#EBEBEB" stroke-width="0.6" stroke-linecap="butt"/>
<line x1="66.70" y1="511.05" x2="246.80" y2="511.05" stroke="#EBEBEB" stroke-width="1.0" stroke-linecap="butt"/>
<line x1="66.70" y1="518.09" x2="246.80" y2="518.09" stroke="#EBEBEB" stroke-width="0.6" stroke-linecap="butt"/>
<line x1="66.70" y1="525.12" x2="246.80" y2="525.12" stroke="#EBEBEB" stroke-width="1.0" stroke-linecap="butt"/>
<line x1="66.70" y1="532.15" x2="246.80" y2="532.15" stroke="#EBEBEB" stroke-width="0.6" stroke-linecap="butt"/>
<line x1="66.70" y1="539.19" x2="246.80" y2="539.19" stroke="#EBEBEB" stroke-width="1.0" stroke-linecap="butt"/>
<line x1="88.81" y1="440.70" x2="88.81" y2="539.20" stroke="#EBEBEB" stroke-width="0.6" stroke-linecap="butt"/>
<line x1="88.81" y1="552.70" x2="88.81" y2="640.20" stroke="#EBEBEB" stroke-width="0.6" stroke-linecap="butt"/>
<line x1="111.52" y1="440.70" x2="111.52" y2="539.20" stroke="#EBEBEB" stroke-width="1.0" stroke-linecap="butt"/>
<line x1="111.52" y1="552.70" x2="111.52" y2="640.20" stroke="#EBEBEB" stroke-width="1.0" stroke-linecap="butt"/>
<line x1="134.24" y1="440.70" x2="134.24" y2="539.20" stroke="#EBEBEB" stroke-width="0.6" stroke-linecap="butt"/>
<line x1="134.24" y1="552.70" x2="134.24" y2="640.20" stroke="#EBEBEB" stroke-width="0.6" stroke-linecap="butt"/>
<line x1="156.95" y1="440.70" x2="156.95" y2="539.20" stroke="#EBEBEB" stroke-width="1.0" stroke-linecap="butt"/>
<line x1="156.95" y1="552.70" x2="156.95" y2="640.20" stroke="#EBEBEB" stroke-width="1.0" stroke-linecap="butt"/>
<line x1="179.66" y1="440.70" x2="179.66" y2="539.20" stroke="#EBEBEB" stroke-width="0.6" stroke-linecap="butt"/>
<line x1="179.66" y1="552.70" x2="179.66" y2="640.20" stroke="#EBEBEB" stroke-width="0.6" stroke-linecap="butt"/>
<line x1="202.37" y1="440.70" x2="202.37" y2="539.20" stroke="#EBEBEB" stroke-width="1.0" stroke-linecap="butt"/>
<line x1="202.37" y1="552.70" x2="202.37" y2="640.20" stroke="#EBEBEB" stroke-width="1.0" stroke-linecap="butt"/>
<line x1="225.09" y1="440.70" x2="225.09" y2="539.20" stroke="#EBEBEB" stroke-width="0.6" stroke-linecap="butt"/>
<line x1="225.09" y1="552.70" x2="225.09" y2="640.20" stroke="#EBEBEB" stroke-width="0.6" stroke-linecap="butt"/>
<path d="M66.6,640.6 L66.6,639.3 L67.0,639.3 L67.0,630.3 L67.9,630.3 L67.9,621.1 L68.8,621.1 L68.8,611.0 L69.7,611.0 L69.7,602.7 L70.6,602.7 L70.6,595.4 L71.6,595.4 L71.6,588.1 L72.5,588.1 L72.5,583.1 L73.4,583.1 L73.4,577.3 L74.3,577.3 L74.3,575.6 L75.2,575.6 L75.2,573.7 L76.1,573.7 L76.1,574.6 L77.0,574.6 L77.0,576.0 L77.9,576.0 L77.9,580.2 L78.8,580.2 L78.8,583.6 L79.7,583.6 L79.7,586.7 L80.6,586.7 L80.6,589.7 L81.5,589.7 L81.5,592.7 L82.5,592.7 L82.5,595.4 L83.4,595.4 L83.4,598.4 L84.3,598.4 L84.3,602.1 L85.2,602.1 L85.2,604.6 L86.1,604.6 L86.1,608.7 L87.0,608.7 L87.0,611.6 L87.9,611.6 L87.9,614.6 L88.8,614.6 L88.8,617.2 L89.7,617.2 L89.7,619.7 L90.6,619.7 L90.6,620.8 L91.5,620.8 L91.5,620.9 L92.4,620.9 L92.4,621.9 L93.4,621.9 L93.4,622.2 L94.3,622.2 L94.3,622.2 L95.2,622.2 L95.2,622.6 L96.1,622.6 L96.1,623.1 L97.0,623.1 L97.0,624.0 L97.9,624.0 L97.9,625.0 L98.8,625.0 L98.8,626.4 L99.7,626.4 L99.7,627.4 L100.6,627.4 L100.6,628.6 L101.5,628.6 L101.5,630.0 L102.4,630.0 L102.4,631.1 L103.3,631.1 L103.3,631.9 L104.3,631.9 L104.3,632.8 L105.2,632.8 L105.2,633.3 L106.1,633.3 L106.1,633.7 L107.0,633.7 L107.0,634.5 L107.9,634.5 L107.9,635.0 L108.8,635.0 L108.8,635.6 L109.7,635.6 L109.7,636.1 L110.6,636.1 L110.6,636.4 L111.5,636.4 L111.5,636.5 L112.4,636.5 L112.4,635.2 L113.3,635.2 L113.3,634.3 L114.3,634.3 L114.3,633.7 L115.2,633.7 L115.2,632.9 L116.1,632.9 L116.1,632.6 L117.0,632.6 L117.0,632.2 L117.9,632.2 L117.9,633.1 L118.8,633.1 L118.8,633.7 L119.7,633.7 L119.7,634.1 L120.6,634.1 L120.6,634.7 L121.5,634.7 L121.5,635.0 L122.4,635.0 L122.4,635.5 L123.3,635.5 L123.3,635.9 L124.2,635.9 L124.2,636.4 L125.2,636.4 L125.2,636.8 L126.1,636.8 L126.1,637.1 L127.0,637.1 L127.0,637.4 L127.9,637.4 L127.9,637.5 L128.8,637.5 L128.8,637.8 L129.7,637.8 L129.7,637.9 L130.6,637.9 L130.6,638.3 L131.5,638.3 L131.5,638.5 L132.4,638.5 L132.4,638.7 L133.3,638.7 L133.3,638.7 L134.2,638.7 L134.2,638.7 L135.1,638.7 L135.1,638.8 L136.1,638.8 L136.1,638.9 L137.0,638.9 L137.0,638.9 L137.9,638.9 L137.9,639.0 L138.8,639.0 L138.8,639.0 L139.7,639.0 L139.7,639.1 L140.6,639.1 L140.6,639.1 L141.5,639.1 L141.5,639.2 L142.4,639.2 L142.4,639.2 L143.3,639.2 L143.3,639.3 L144.2,639.3 L144.2,639.3 L145.1,639.3 L145.1,639.4 L146.0,639.4 L146.0,639.3 L147.0,639.3 L147.0,639.4 L147.9,639.4 L147.9,639.4 L148.8,639.4 L148.8,639.4 L149.7,639.4 L149.7,639.4 L150.6,639.4 L150.6,639.4 L151.5,639.4 L151.5,639.4 L152.4,639.4 L152.4,639.5 L153.3,639.5 L153.3,639.5 L154.2,639.5 L154.2,639.5 L155.1,639.5 L155.1,639.4 L156.0,639.4 L156.0,638.3 L156.9,638.3 L156.9,636.7 L157.9,636.7 L157.9,635.7 L158.8,635.7 L158.8,635.2 L159.7,635.2 L159.7,634.9 L160.6,634.9 L160.6,635.1 L161.5,635.1 L161.5,635.7 L162.4,635.7 L162.4,636.3 L163.3,636.3 L163.3,636.8 L164.2,636.8 L164.2,637.1 L165.1,637.1 L165.1,637.4 L166.0,637.4 L166.0,637.7 L166.9,637.7 L166.9,637.9 L167.9,637.9 L167.9,638.2 L168.8,638.2 L168.8,638.2 L169.7,638.2 L169.7,638.2 L170.6,638.2 L170.6,638.1 L171.5,638.1 L171.5,638.2 L172.4,638.2 L172.4,638.4 L173.3,638.4 L173.3,638.6 L174.2,638.6 L174.2,638.9 L175.1,638.9 L175.1,639.1 L176.0,639.1 L176.0,639.3 L176.9,639.3 L176.9,639.3 L177.8,639.3 L177.8,639.3 L178.8,639.3 L178.8,639.3 L179.7,639.3 L179.7,639.3 L180.6,639.3 L180.6,639.4 L181.5,639.4 L181.5,639.4 L182.4,639.4 L182.4,639.4 L183.3,639.4 L183.3,639.4 L184.2,639.4 L184.2,639.4 L185.1,639.4 L185.1,639.4 L186.0,639.4 L186.0,639.5 L186.9,639.5 L186.9,639.5 L187.8,639.5 L187.8,639.5 L188.7,639.5 L188.7,639.5 L189.7,639.5 L189.7,639.5 L190.6,639.5 L190.6,639.5 L191.5,639.5 L191.5,639.6 L192.4,639.6 L192.4,639.6 L193.3,639.6 L193.3,639.6 L194.2,639.6 L194.2,639.6 L195.1,639.6 L195.1,639.6 L196.0,639.6 L196.0,639.7 L196.9,639.7 L196.9,639.7 L197.8,639.7 L197.8,639.7 L198.7,639.7 L198.7,639.7 L199.6,639.7 L199.6,639.7 L200.6,639.7 L200.6,639.7 L201.5,639.7 L201.5,639.7 L202.4,639.7 L202.4,639.7 L203.3,639.7 L203.3,639.7 L204.2,639.7 L204.2,639.7 L205.1,639.7 L205.1,639.7 L206.0,639.7 L206.0,639.7 L206.9,639.7 L206.9,639.7 L207.8,639.7 L207.8,639.7 L208.7,639.7 L208.7,639.7 L209.6,639.7 L209.6,639.7 L210.6,639.7 L210.6,639.8 L211.5,639.8 L211.5,639.8 L212.4,639.8 L212.4,639.8 L213.3,639.8 L213.3,639.8 L214.2,639.8 L214.2,639.8 L215.1,639.8 L215.1,639.8 L216.0,639.8 L216.0,639.8 L216.9,639.8 L216.9,639.8 L217.8,639.8 L217.8,639.8 L218.7,639.8 L218.7,639.8 L219.6,639.8 L219.6,639.8 L220.5,639.8 L220.5,639.8 L221.5,639.8 L221.5,639.8 L222.4,639.8 L222.4,639.8 L223.3,639.8 L223.3,639.8 L224.2,639.8 L224.2,639.8 L225.1,639.8 L225.1,639.8 L226.0,639.8 L226.0,639.8 L226.9,639.8 L226.9,639.8 L227.8,639.8 L227.8,639.8 L228.7,639.8 L228.7,639.8 L229.6,639.8 L229.6,639.8 L230.5,639.8 L230.5,639.8 L231.4,639.8 L231.4,639.8 L232.4,639.8 L232.4,639.8 L233.3,639.8 L233.3,639.8 L234.2,639.8 L234.2,639.8 L235.1,639.8 L235.1,639.9 L236.0,639.9 L236.0,639.9 L236.9,639.9 L236.9,639.9 L237.8,639.9 L237.8,639.9 L238.7,639.9 L238.7,639.9 L239.6,639.9 L239.6,639.9 L240.5,639.9 L240.5,639.9 L241.4,639.9 L241.4,639.9 L242.3,639.9 L242.3,639.9 L243.3,639.9 L243.3,639.9 L244.2,639.9 L244.2,639.9 L245.1,639.9 L245.1,639.9 L246.0,639.9 L246.0,639.9 L246.8,639.9 L246.8,640.6 Z" fill="#4682B4"/>
<rect x="66.5" y="639.90" width="181" height="0.9" fill="#4682B4" opacity="0.8"/>
<rect x="246.2" y="499.93" width="2.0" height="39.27" fill="#4682B4"/>
<rect x="246.2" y="552.70" width="2.0" height="88.00" fill="#4682B4"/>
<line x1="66.10" y1="440.05" x2="66.10" y2="539.20" stroke="#000" stroke-width="1.5" stroke-linecap="butt"/>
<line x1="66.10" y1="552.70" x2="66.10" y2="640.85" stroke="#000" stroke-width="1.5" stroke-linecap="butt"/>
<line x1="62.20" y1="440.70" x2="66.10" y2="440.70" stroke="#000" stroke-width="1.3" stroke-linecap="butt"/>
<line x1="62.20" y1="454.77" x2="66.10" y2="454.77" stroke="#000" stroke-width="1.3" stroke-linecap="butt"/>
<line x1="62.20" y1="468.84" x2="66.10" y2="468.84" stroke="#000" stroke-width="1.3" stroke-linecap="butt"/>
<line x1="62.20" y1="482.91" x2="66.10" y2="482.91" stroke="#000" stroke-width="1.3" stroke-linecap="butt"/>
<line x1="62.20" y1="496.98" x2="66.10" y2="496.98" stroke="#000" stroke-width="1.3" stroke-linecap="butt"/>
<line x1="62.20" y1="511.05" x2="66.10" y2="511.05" stroke="#000" stroke-width="1.3" stroke-linecap="butt"/>
<line x1="62.20" y1="525.12" x2="66.10" y2="525.12" stroke="#000" stroke-width="1.3" stroke-linecap="butt"/>
<line x1="62.20" y1="640.20" x2="66.10" y2="640.20" stroke="#000" stroke-width="1.3" stroke-linecap="butt"/>
<path d="M62.9,539.55 C64.5,539.10 65.6,540.30 67.2,539.90 C68.4,539.60 69.2,538.70 70.2,538.20" fill="none" stroke="#000" stroke-width="1.3"/>
<path d="M62.9,553.05 C64.5,552.60 65.6,553.80 67.2,553.40 C68.4,553.10 69.2,552.20 70.2,551.70" fill="none" stroke="#000" stroke-width="1.3"/>
<text x="58.5" y="446.2" font-size="13.4" fill="#4D4D4D" stroke="#4D4D4D" stroke-width="0.2" text-anchor="end" >1.0</text>
<text x="58.5" y="460.27" font-size="13.4" fill="#4D4D4D" stroke="#4D4D4D" stroke-width="0.2" text-anchor="end" >0.9</text>
<text x="58.5" y="474.34" font-size="13.4" fill="#4D4D4D" stroke="#4D4D4D" stroke-width="0.2" text-anchor="end" >0.8</text>
<text x="58.5" y="488.40999999999997" font-size="13.4" fill="#4D4D4D" stroke="#4D4D4D" stroke-width="0.2" text-anchor="end" >0.7</text>
<text x="58.5" y="502.48" font-size="13.4" fill="#4D4D4D" stroke="#4D4D4D" stroke-width="0.2" text-anchor="end" >0.6</text>
<text x="58.5" y="516.55" font-size="13.4" fill="#4D4D4D" stroke="#4D4D4D" stroke-width="0.2" text-anchor="end" >0.5</text>
<text x="58.5" y="530.62" font-size="13.4" fill="#4D4D4D" stroke="#4D4D4D" stroke-width="0.2" text-anchor="end" >0.4</text>
<text x="58.5" y="544.69" font-size="13.4" fill="#4D4D4D" stroke="#4D4D4D" stroke-width="0.2" text-anchor="end" >0.3</text>
<text x="58.5" y="559.0" font-size="13.4" fill="#4D4D4D" stroke="#4D4D4D" stroke-width="0.2" text-anchor="end" >0.02</text>
<text x="58.5" y="645.8000000000001" font-size="13.4" fill="#4D4D4D" stroke="#4D4D4D" stroke-width="0.2" text-anchor="end" >0</text>
<rect x="248.2" y="440.60" width="25.40" height="199.60" fill="#D9D9D9" stroke="#555" stroke-width="0.8"/>
<text x="255.9" y="546.6500000000001" font-size="13.4" fill="#1a1a1a" stroke="#1a1a1a" stroke-width="0.2" text-anchor="middle" transform="rotate(90 255.9 546.6500000000001)" >1</text>
<text x="89.4" y="478.2" font-size="13.48" fill="#000" stroke="#000" stroke-width="0.2" text-anchor="start" >57.9% fully aneuploid</text>
<line x1="221.30" y1="480.00" x2="241.27" y2="494.54" stroke="#000" stroke-width="1.3" stroke-linecap="butt"/>
<polygon points="244.10,496.60 239.92,495.54 241.81,492.95" fill="#000" stroke="#000" stroke-width="0.6" stroke-linejoin="miter"/>
<text x="86.4" y="584.6" font-size="13.62" fill="#000" stroke="#000" stroke-width="0.2" text-anchor="start" >0.0% fully euploid</text>
<line x1="86.50" y1="589.10" x2="69.79" y2="627.69" stroke="#000" stroke-width="1.3" stroke-linecap="butt"/>
<polygon points="68.40,630.90 68.52,626.59 71.46,627.87" fill="#000" stroke="#000" stroke-width="0.6" stroke-linejoin="miter"/>
<line x1="65.40" y1="640.30" x2="248.10" y2="640.30" stroke="#000" stroke-width="1.35" stroke-linecap="butt"/>
<line x1="66.10" y1="640.30" x2="66.10" y2="644.60" stroke="#000" stroke-width="1.25" stroke-linecap="butt"/>
<text x="66.1" y="657.7" font-size="13.4" fill="#4D4D4D" stroke="#4D4D4D" stroke-width="0.2" text-anchor="middle" >0.00</text>
<line x1="111.52" y1="640.30" x2="111.52" y2="644.60" stroke="#000" stroke-width="1.25" stroke-linecap="butt"/>
<text x="111.52499999999999" y="657.7" font-size="13.4" fill="#4D4D4D" stroke="#4D4D4D" stroke-width="0.2" text-anchor="middle" >0.25</text>
<line x1="156.95" y1="640.30" x2="156.95" y2="644.60" stroke="#000" stroke-width="1.25" stroke-linecap="butt"/>
<text x="156.95" y="657.7" font-size="13.4" fill="#4D4D4D" stroke="#4D4D4D" stroke-width="0.2" text-anchor="middle" >0.50</text>
<line x1="202.37" y1="640.30" x2="202.37" y2="644.60" stroke="#000" stroke-width="1.25" stroke-linecap="butt"/>
<text x="202.37499999999997" y="657.7" font-size="13.4" fill="#4D4D4D" stroke="#4D4D4D" stroke-width="0.2" text-anchor="middle" >0.75</text>
<line x1="247.80" y1="640.30" x2="247.80" y2="644.60" stroke="#000" stroke-width="1.25" stroke-linecap="butt"/>
<text x="247.79999999999998" y="657.7" font-size="13.4" fill="#4D4D4D" stroke="#4D4D4D" stroke-width="0.2" text-anchor="middle" >1.00</text>
<text x="158.1" y="676.6" font-size="16.7" fill="#000" stroke="#000" stroke-width="0.2" text-anchor="middle" >Proportion of aneuploid cells</text>
<text x="18.2" y="336.0" font-size="17.8" fill="#000" stroke="#000" stroke-width="0.2" text-anchor="middle" transform="rotate(-90 18.2 336.0)" >Proportion of embryos</text>
<text x="297.6" y="330.9" font-size="16.7" fill="#000" stroke="#000" stroke-width="0.2" text-anchor="middle" transform="rotate(90 297.6 330.9)" >Dispersal</text>
<text x="-0.9" y="15.5" font-size="20.5" fill="#000" stroke="#000" stroke-width="0" text-anchor="start" font-weight="bold" >a</text>
<text x="300.9" y="15.4" font-size="20.8" fill="#000" stroke="#000" stroke-width="0" text-anchor="start" font-weight="bold" >b</text>
<clipPath id="fc0"><rect x="422.5" y="0" width="103.5" height="681"/></clipPath>
<path d="M418.00,9.10 L418.02,9.10 L418.12,9.10 L418.40,9.10 L418.90,9.10 L419.66,9.10 L420.69,9.10 L421.97,9.10 L423.47,9.10 L425.14,9.10 L426.92,9.10 L428.75,9.10 L430.60,9.10 L432.42,9.10 L434.20,9.10 L435.92,9.10 L437.57,9.10 L439.16,9.10 L440.70,9.10 L442.19,9.10 L443.67,9.10 L445.14,9.10 L446.61,9.10 L448.11,9.10 L449.65,9.10 L451.22,9.10 L452.85,9.10 L454.54,9.10 L456.29,9.10 L458.10,9.10 L459.98,9.10 L461.92,9.10 L463.91,9.10 L465.95,9.10 L468.03,9.10 L470.13,9.10 L472.25,9.10 L474.37,9.10 L476.47,9.10 L478.55,9.10 L480.59,9.10 L482.58,9.10 L484.52,9.10 L486.40,9.10 L488.21,9.10 L489.96,9.10 L491.65,9.10 L493.28,9.10 L494.85,9.10 L496.39,9.10 L497.89,9.10 L499.36,9.10 L500.83,9.10 L502.31,9.10 L503.80,9.10 L505.34,9.10 L506.93,9.10 L508.58,9.10 L510.30,9.10 L512.08,9.10 L513.90,9.10 L515.75,9.10 L517.58,9.10 L519.36,9.10 L521.03,9.10 L522.53,9.10 L523.81,9.10 L524.84,9.10 L525.60,9.10 L526.10,9.10 L526.38,9.10 L526.48,9.10 L526.50,9.10 L526.50,30.30 L526.48,30.30 L526.38,30.30 L526.10,30.30 L525.60,30.30 L524.84,30.30 L523.81,30.30 L522.53,30.30 L521.03,30.30 L519.36,30.30 L517.58,30.30 L515.75,30.30 L513.90,30.30 L512.08,30.30 L510.30,30.30 L508.58,30.30 L506.93,30.30 L505.34,30.30 L503.80,30.30 L502.31,30.30 L500.83,30.30 L499.36,30.30 L497.89,30.30 L496.39,30.30 L494.85,30.30 L493.28,30.30 L491.65,30.30 L489.96,30.30 L488.21,30.30 L486.40,30.30 L484.52,30.30 L482.58,30.30 L480.59,30.30 L478.55,30.30 L476.47,30.30 L474.37,30.30 L472.25,30.30 L470.13,30.30 L468.03,30.30 L465.95,30.30 L463.91,30.30 L461.92,30.30 L459.98,30.30 L458.10,30.30 L456.29,30.30 L454.54,30.30 L452.85,30.30 L451.22,30.30 L449.65,30.30 L448.11,30.30 L446.61,30.30 L445.14,30.30 L443.67,30.30 L442.19,30.30 L440.70,30.30 L439.16,30.30 L437.57,30.30 L435.92,30.30 L434.20,30.30 L432.42,30.30 L430.60,30.30 L428.75,30.30 L426.92,30.30 L425.14,30.30 L423.47,30.30 L421.97,30.30 L420.69,30.30 L419.66,30.30 L418.90,30.30 L418.40,30.30 L418.12,30.30 L418.02,30.30 L418.00,30.30 Z" fill="#287171" fill-opacity="0.75" clip-path="url(#fc0)"/>
<path d="M418.00,30.30 L418.02,30.30 L418.12,30.30 L418.40,30.31 L418.90,30.33 L419.66,30.36 L420.69,30.40 L421.97,30.46 L423.47,30.53 L425.14,30.62 L426.92,30.73 L428.75,30.85 L430.60,30.99 L432.42,31.15 L434.20,31.32 L435.92,31.52 L437.57,31.72 L439.16,31.95 L440.70,32.20 L442.19,32.48 L443.67,32.78 L445.14,33.12 L446.61,33.48 L448.11,33.89 L449.65,34.33 L451.22,34.81 L452.85,35.33 L454.54,35.89 L456.29,36.49 L458.10,37.13 L459.98,37.80 L461.92,38.51 L463.91,39.25 L465.95,40.01 L468.03,40.80 L470.13,41.60 L472.25,42.40 L474.37,43.20 L476.47,44.00 L478.55,44.79 L480.59,45.55 L482.58,46.29 L484.52,47.00 L486.40,47.67 L488.21,48.31 L489.96,48.91 L491.65,49.47 L493.28,49.99 L494.85,50.47 L496.39,50.91 L497.89,51.32 L499.36,51.68 L500.83,52.02 L502.31,52.32 L503.80,52.60 L505.34,52.85 L506.93,53.08 L508.58,53.28 L510.30,53.48 L512.08,53.65 L513.90,53.81 L515.75,53.95 L517.58,54.07 L519.36,54.18 L521.03,54.27 L522.53,54.34 L523.81,54.40 L524.84,54.44 L525.60,54.47 L526.10,54.49 L526.38,54.50 L526.48,54.50 L526.50,54.50 L526.50,68.70 L526.48,68.70 L526.38,68.70 L526.10,68.69 L525.60,68.67 L524.84,68.64 L523.81,68.60 L522.53,68.54 L521.03,68.47 L519.36,68.38 L517.58,68.27 L515.75,68.15 L513.90,68.01 L512.08,67.85 L510.30,67.68 L508.58,67.48 L506.93,67.28 L505.34,67.05 L503.80,66.80 L502.31,66.52 L500.83,66.22 L499.36,65.88 L497.89,65.52 L496.39,65.11 L494.85,64.67 L493.28,64.19 L491.65,63.67 L489.96,63.11 L488.21,62.51 L486.40,61.87 L484.52,61.20 L482.58,60.49 L480.59,59.75 L478.55,58.99 L476.47,58.20 L474.37,57.40 L472.25,56.60 L470.13,55.80 L468.03,55.00 L465.95,54.21 L463.91,53.45 L461.92,52.71 L459.98,52.00 L458.10,51.33 L456.29,50.69 L454.54,50.09 L452.85,49.53 L451.22,49.01 L449.65,48.53 L448.11,48.09 L446.61,47.68 L445.14,47.32 L443.67,46.98 L442.19,46.68 L440.70,46.40 L439.16,46.15 L437.57,45.92 L435.92,45.72 L434.20,45.52 L432.42,45.35 L430.60,45.19 L428.75,45.05 L426.92,44.93 L425.14,44.82 L423.47,44.73 L421.97,44.66 L420.69,44.60 L419.66,44.56 L418.90,44.53 L418.40,44.51 L418.12,44.50 L418.02,44.50 L418.00,44.50 Z" fill="#287171" fill-opacity="0.75" clip-path="url(#fc0)"/>
<path d="M418.00,44.50 L418.02,44.50 L418.12,44.51 L418.40,44.52 L418.90,44.56 L419.66,44.61 L420.69,44.70 L421.97,44.81 L423.47,44.96 L425.14,45.14 L426.92,45.35 L428.75,45.59 L430.60,45.87 L432.42,46.18 L434.20,46.52 L435.92,46.90 L437.57,47.31 L439.16,47.76 L440.70,48.26 L442.19,48.80 L443.67,49.40 L445.14,50.06 L446.61,50.79 L448.11,51.59 L449.65,52.47 L451.22,53.42 L452.85,54.44 L454.54,55.55 L456.29,56.73 L458.10,57.99 L459.98,59.32 L461.92,60.72 L463.91,62.18 L465.95,63.69 L468.03,65.24 L470.13,66.81 L472.25,68.40 L474.37,69.99 L476.47,71.56 L478.55,73.11 L480.59,74.62 L482.58,76.08 L484.52,77.48 L486.40,78.81 L488.21,80.07 L489.96,81.25 L491.65,82.36 L493.28,83.38 L494.85,84.33 L496.39,85.21 L497.89,86.01 L499.36,86.74 L500.83,87.40 L502.31,88.00 L503.80,88.54 L505.34,89.04 L506.93,89.49 L508.58,89.90 L510.30,90.28 L512.08,90.62 L513.90,90.93 L515.75,91.21 L517.58,91.45 L519.36,91.66 L521.03,91.84 L522.53,91.99 L523.81,92.10 L524.84,92.19 L525.60,92.24 L526.10,92.28 L526.38,92.29 L526.48,92.30 L526.50,92.30 L526.50,102.40 L526.48,102.40 L526.38,102.39 L526.10,102.38 L525.60,102.34 L524.84,102.29 L523.81,102.20 L522.53,102.09 L521.03,101.94 L519.36,101.76 L517.58,101.55 L515.75,101.30 L513.90,101.02 L512.08,100.71 L510.30,100.37 L508.58,100.00 L506.93,99.58 L505.34,99.13 L503.80,98.63 L502.31,98.09 L500.83,97.49 L499.36,96.83 L497.89,96.10 L496.39,95.29 L494.85,94.42 L493.28,93.46 L491.65,92.44 L489.96,91.33 L488.21,90.14 L486.40,88.88 L484.52,87.55 L482.58,86.15 L480.59,84.68 L478.55,83.17 L476.47,81.62 L474.37,80.04 L472.25,78.45 L470.13,76.86 L468.03,75.28 L465.95,73.73 L463.91,72.22 L461.92,70.75 L459.98,69.35 L458.10,68.02 L456.29,66.76 L454.54,65.57 L452.85,64.46 L451.22,63.44 L449.65,62.48 L448.11,61.61 L446.61,60.80 L445.14,60.07 L443.67,59.41 L442.19,58.81 L440.70,58.27 L439.16,57.77 L437.57,57.32 L435.92,56.90 L434.20,56.53 L432.42,56.19 L430.60,55.88 L428.75,55.60 L426.92,55.35 L425.14,55.14 L423.47,54.96 L421.97,54.81 L420.69,54.70 L419.66,54.61 L418.90,54.56 L418.40,54.52 L418.12,54.51 L418.02,54.50 L418.00,54.50 Z" fill="#287171" fill-opacity="0.75" clip-path="url(#fc0)"/>
<path d="M418.00,54.50 L418.02,54.50 L418.12,54.50 L418.40,54.49 L418.90,54.47 L419.66,54.44 L420.69,54.40 L421.97,54.34 L423.47,54.27 L425.14,54.18 L426.92,54.07 L428.75,53.95 L430.60,53.81 L432.42,53.65 L434.20,53.48 L435.92,53.28 L437.57,53.08 L439.16,52.85 L440.70,52.60 L442.19,52.32 L443.67,52.02 L445.14,51.68 L446.61,51.32 L448.11,50.91 L449.65,50.47 L451.22,49.99 L452.85,49.47 L454.54,48.91 L456.29,48.31 L458.10,47.67 L459.98,47.00 L461.92,46.29 L463.91,45.55 L465.95,44.79 L468.03,44.00 L470.13,43.20 L472.25,42.40 L474.37,41.60 L476.47,40.80 L478.55,40.01 L480.59,39.25 L482.58,38.51 L484.52,37.80 L486.40,37.13 L488.21,36.49 L489.96,35.89 L491.65,35.33 L493.28,34.81 L494.85,34.33 L496.39,33.89 L497.89,33.48 L499.36,33.12 L500.83,32.78 L502.31,32.48 L503.80,32.20 L505.34,31.95 L506.93,31.72 L508.58,31.52 L510.30,31.32 L512.08,31.15 L513.90,30.99 L515.75,30.85 L517.58,30.73 L519.36,30.62 L521.03,30.53 L522.53,30.46 L523.81,30.40 L524.84,30.36 L525.60,30.33 L526.10,30.31 L526.38,30.30 L526.48,30.30 L526.50,30.30 L526.50,44.50 L526.48,44.50 L526.38,44.50 L526.10,44.51 L525.60,44.53 L524.84,44.56 L523.81,44.60 L522.53,44.66 L521.03,44.73 L519.36,44.82 L517.58,44.93 L515.75,45.05 L513.90,45.19 L512.08,45.35 L510.30,45.52 L508.58,45.72 L506.93,45.92 L505.34,46.15 L503.80,46.40 L502.31,46.68 L500.83,46.98 L499.36,47.32 L497.89,47.68 L496.39,48.09 L494.85,48.53 L493.28,49.01 L491.65,49.53 L489.96,50.09 L488.21,50.69 L486.40,51.33 L484.52,52.00 L482.58,52.71 L480.59,53.45 L478.55,54.21 L476.47,55.00 L474.37,55.80 L472.25,56.60 L470.13,57.40 L468.03,58.20 L465.95,58.99 L463.91,59.75 L461.92,60.49 L459.98,61.20 L458.10,61.87 L456.29,62.51 L454.54,63.11 L452.85,63.67 L451.22,64.19 L449.65,64.67 L448.11,65.11 L446.61,65.52 L445.14,65.88 L443.67,66.22 L442.19,66.52 L440.70,66.80 L439.16,67.05 L437.57,67.28 L435.92,67.48 L434.20,67.68 L432.42,67.85 L430.60,68.01 L428.75,68.15 L426.92,68.27 L425.14,68.38 L423.47,68.47 L421.97,68.54 L420.69,68.60 L419.66,68.64 L418.90,68.67 L418.40,68.69 L418.12,68.70 L418.02,68.70 L418.00,68.70 Z" fill="#287171" fill-opacity="0.75" clip-path="url(#fc0)"/>
<path d="M418.00,68.70 L418.02,68.70 L418.12,68.70 L418.40,68.70 L418.90,68.70 L419.66,68.70 L420.69,68.70 L421.97,68.70 L423.47,68.70 L425.14,68.70 L426.92,68.70 L428.75,68.70 L430.60,68.70 L432.42,68.70 L434.20,68.70 L435.92,68.70 L437.57,68.70 L439.16,68.70 L440.70,68.70 L442.19,68.70 L443.67,68.70 L445.14,68.70 L446.61,68.70 L448.11,68.70 L449.65,68.70 L451.22,68.70 L452.85,68.70 L454.54,68.70 L456.29,68.70 L458.10,68.70 L459.98,68.70 L461.92,68.70 L463.91,68.70 L465.95,68.70 L468.03,68.70 L470.13,68.70 L472.25,68.70 L474.37,68.70 L476.47,68.70 L478.55,68.70 L480.59,68.70 L482.58,68.70 L484.52,68.70 L486.40,68.70 L488.21,68.70 L489.96,68.70 L491.65,68.70 L493.28,68.70 L494.85,68.70 L496.39,68.70 L497.89,68.70 L499.36,68.70 L500.83,68.70 L502.31,68.70 L503.80,68.70 L505.34,68.70 L506.93,68.70 L508.58,68.70 L510.30,68.70 L512.08,68.70 L513.90,68.70 L515.75,68.70 L517.58,68.70 L519.36,68.70 L521.03,68.70 L522.53,68.70 L523.81,68.70 L524.84,68.70 L525.60,68.70 L526.10,68.70 L526.38,68.70 L526.48,68.70 L526.50,68.70 L526.50,80.80 L526.48,80.80 L526.38,80.80 L526.10,80.80 L525.60,80.80 L524.84,80.80 L523.81,80.80 L522.53,80.80 L521.03,80.80 L519.36,80.80 L517.58,80.80 L515.75,80.80 L513.90,80.80 L512.08,80.80 L510.30,80.80 L508.58,80.80 L506.93,80.80 L505.34,80.80 L503.80,80.80 L502.31,80.80 L500.83,80.80 L499.36,80.80 L497.89,80.80 L496.39,80.80 L494.85,80.80 L493.28,80.80 L491.65,80.80 L489.96,80.80 L488.21,80.80 L486.40,80.80 L484.52,80.80 L482.58,80.80 L480.59,80.80 L478.55,80.80 L476.47,80.80 L474.37,80.80 L472.25,80.80 L470.13,80.80 L468.03,80.80 L465.95,80.80 L463.91,80.80 L461.92,80.80 L459.98,80.80 L458.10,80.80 L456.29,80.80 L454.54,80.80 L452.85,80.80 L451.22,80.80 L449.65,80.80 L448.11,80.80 L446.61,80.80 L445.14,80.80 L443.67,80.80 L442.19,80.80 L440.70,80.80 L439.16,80.80 L437.57,80.80 L435.92,80.80 L434.20,80.80 L432.42,80.80 L430.60,80.80 L428.75,80.80 L426.92,80.80 L425.14,80.80 L423.47,80.80 L421.97,80.80 L420.69,80.80 L419.66,80.80 L418.90,80.80 L418.40,80.80 L418.12,80.80 L418.02,80.80 L418.00,80.80 Z" fill="#287171" fill-opacity="0.75" clip-path="url(#fc0)"/>
<path d="M418.00,80.80 L418.02,80.80 L418.12,80.80 L418.40,80.81 L418.90,80.83 L419.66,80.85 L420.69,80.89 L421.97,80.94 L423.47,81.01 L425.14,81.09 L426.92,81.18 L428.75,81.29 L430.60,81.42 L432.42,81.56 L434.20,81.71 L435.92,81.88 L437.57,82.07 L439.16,82.27 L440.70,82.50 L442.19,82.74 L443.67,83.02 L445.14,83.31 L446.61,83.64 L448.11,84.00 L449.65,84.40 L451.22,84.83 L452.85,85.29 L454.54,85.79 L456.29,86.33 L458.10,86.90 L459.98,87.50 L461.92,88.13 L463.91,88.79 L465.95,89.47 L468.03,90.17 L470.13,90.88 L472.25,91.60 L474.37,92.32 L476.47,93.03 L478.55,93.73 L480.59,94.41 L482.58,95.07 L484.52,95.70 L486.40,96.30 L488.21,96.87 L489.96,97.41 L491.65,97.91 L493.28,98.37 L494.85,98.80 L496.39,99.20 L497.89,99.56 L499.36,99.89 L500.83,100.18 L502.31,100.46 L503.80,100.70 L505.34,100.93 L506.93,101.13 L508.58,101.32 L510.30,101.49 L512.08,101.64 L513.90,101.78 L515.75,101.91 L517.58,102.02 L519.36,102.11 L521.03,102.19 L522.53,102.26 L523.81,102.31 L524.84,102.35 L525.60,102.37 L526.10,102.39 L526.38,102.40 L526.48,102.40 L526.50,102.40 L526.50,114.20 L526.48,114.20 L526.38,114.20 L526.10,114.19 L525.60,114.17 L524.84,114.15 L523.81,114.11 L522.53,114.06 L521.03,113.99 L519.36,113.91 L517.58,113.81 L515.75,113.70 L513.90,113.57 L512.08,113.43 L510.30,113.27 L508.58,113.10 L506.93,112.91 L505.34,112.70 L503.80,112.48 L502.31,112.23 L500.83,111.95 L499.36,111.65 L497.89,111.32 L496.39,110.95 L494.85,110.55 L493.28,110.11 L491.65,109.64 L489.96,109.14 L488.21,108.60 L486.40,108.02 L484.52,107.41 L482.58,106.77 L480.59,106.10 L478.55,105.41 L476.47,104.70 L474.37,103.98 L472.25,103.25 L470.13,102.52 L468.03,101.80 L465.95,101.09 L463.91,100.40 L461.92,99.73 L459.98,99.09 L458.10,98.48 L456.29,97.90 L454.54,97.36 L452.85,96.86 L451.22,96.39 L449.65,95.95 L448.11,95.55 L446.61,95.18 L445.14,94.85 L443.67,94.55 L442.19,94.27 L440.70,94.02 L439.16,93.80 L437.57,93.59 L435.92,93.40 L434.20,93.23 L432.42,93.07 L430.60,92.93 L428.75,92.80 L426.92,92.69 L425.14,92.59 L423.47,92.51 L421.97,92.44 L420.69,92.39 L419.66,92.35 L418.90,92.33 L418.40,92.31 L418.12,92.30 L418.02,92.30 L418.00,92.30 Z" fill="#287171" fill-opacity="0.75" clip-path="url(#fc0)"/>
<path d="M418.00,92.30 L418.02,92.30 L418.12,92.29 L418.40,92.28 L418.90,92.24 L419.66,92.19 L420.69,92.10 L421.97,91.99 L423.47,91.84 L425.14,91.66 L426.92,91.45 L428.75,91.21 L430.60,90.93 L432.42,90.62 L434.20,90.28 L435.92,89.90 L437.57,89.49 L439.16,89.04 L440.70,88.54 L442.19,88.00 L443.67,87.40 L445.14,86.74 L446.61,86.01 L448.11,85.21 L449.65,84.33 L451.22,83.38 L452.85,82.36 L454.54,81.25 L456.29,80.07 L458.10,78.81 L459.98,77.48 L461.92,76.08 L463.91,74.62 L465.95,73.11 L468.03,71.56 L470.13,69.99 L472.25,68.40 L474.37,66.81 L476.47,65.24 L478.55,63.69 L480.59,62.18 L482.58,60.72 L484.52,59.32 L486.40,57.99 L488.21,56.73 L489.96,55.55 L491.65,54.44 L493.28,53.42 L494.85,52.47 L496.39,51.59 L497.89,50.79 L499.36,50.06 L500.83,49.40 L502.31,48.80 L503.80,48.26 L505.34,47.76 L506.93,47.31 L508.58,46.90 L510.30,46.52 L512.08,46.18 L513.90,45.87 L515.75,45.59 L517.58,45.35 L519.36,45.14 L521.03,44.96 L522.53,44.81 L523.81,44.70 L524.84,44.61 L525.60,44.56 L526.10,44.52 L526.38,44.51 L526.48,44.50 L526.50,44.50 L526.50,54.50 L526.48,54.50 L526.38,54.51 L526.10,54.52 L525.60,54.56 L524.84,54.61 L523.81,54.70 L522.53,54.81 L521.03,54.96 L519.36,55.14 L517.58,55.35 L515.75,55.60 L513.90,55.88 L512.08,56.19 L510.30,56.53 L508.58,56.90 L506.93,57.32 L505.34,57.77 L503.80,58.27 L502.31,58.81 L500.83,59.41 L499.36,60.07 L497.89,60.80 L496.39,61.61 L494.85,62.48 L493.28,63.44 L491.65,64.46 L489.96,65.57 L488.21,66.76 L486.40,68.02 L484.52,69.35 L482.58,70.75 L480.59,72.22 L478.55,73.73 L476.47,75.28 L474.37,76.86 L472.25,78.45 L470.13,80.04 L468.03,81.62 L465.95,83.17 L463.91,84.68 L461.92,86.15 L459.98,87.55 L458.10,88.88 L456.29,90.14 L454.54,91.33 L452.85,92.44 L451.22,93.46 L449.65,94.42 L448.11,95.29 L446.61,96.10 L445.14,96.83 L443.67,97.49 L442.19,98.09 L440.70,98.63 L439.16,99.13 L437.57,99.58 L435.92,100.00 L434.20,100.37 L432.42,100.71 L430.60,101.02 L428.75,101.30 L426.92,101.55 L425.14,101.76 L423.47,101.94 L421.97,102.09 L420.69,102.20 L419.66,102.29 L418.90,102.34 L418.40,102.38 L418.12,102.39 L418.02,102.40 L418.00,102.40 Z" fill="#287171" fill-opacity="0.75" clip-path="url(#fc0)"/>
<path d="M418.00,102.40 L418.02,102.40 L418.12,102.40 L418.40,102.39 L418.90,102.37 L419.66,102.35 L420.69,102.31 L421.97,102.26 L423.47,102.19 L425.14,102.11 L426.92,102.02 L428.75,101.91 L430.60,101.78 L432.42,101.64 L434.20,101.49 L435.92,101.32 L437.57,101.13 L439.16,100.93 L440.70,100.70 L442.19,100.46 L443.67,100.18 L445.14,99.89 L446.61,99.56 L448.11,99.20 L449.65,98.80 L451.22,98.37 L452.85,97.91 L454.54,97.41 L456.29,96.87 L458.10,96.30 L459.98,95.70 L461.92,95.07 L463.91,94.41 L465.95,93.73 L468.03,93.03 L470.13,92.32 L472.25,91.60 L474.37,90.88 L476.47,90.17 L478.55,89.47 L480.59,88.79 L482.58,88.13 L484.52,87.50 L486.40,86.90 L488.21,86.33 L489.96,85.79 L491.65,85.29 L493.28,84.83 L494.85,84.40 L496.39,84.00 L497.89,83.64 L499.36,83.31 L500.83,83.02 L502.31,82.74 L503.80,82.50 L505.34,82.27 L506.93,82.07 L508.58,81.88 L510.30,81.71 L512.08,81.56 L513.90,81.42 L515.75,81.29 L517.58,81.18 L519.36,81.09 L521.03,81.01 L522.53,80.94 L523.81,80.89 L524.84,80.85 L525.60,80.83 L526.10,80.81 L526.38,80.80 L526.48,80.80 L526.50,80.80 L526.50,92.30 L526.48,92.30 L526.38,92.30 L526.10,92.31 L525.60,92.33 L524.84,92.35 L523.81,92.39 L522.53,92.44 L521.03,92.51 L519.36,92.59 L517.58,92.69 L515.75,92.80 L513.90,92.93 L512.08,93.07 L510.30,93.23 L508.58,93.40 L506.93,93.59 L505.34,93.80 L503.80,94.02 L502.31,94.27 L500.83,94.55 L499.36,94.85 L497.89,95.18 L496.39,95.55 L494.85,95.95 L493.28,96.39 L491.65,96.86 L489.96,97.36 L488.21,97.90 L486.40,98.48 L484.52,99.09 L482.58,99.73 L480.59,100.40 L478.55,101.09 L476.47,101.80 L474.37,102.52 L472.25,103.25 L470.13,103.98 L468.03,104.70 L465.95,105.41 L463.91,106.10 L461.92,106.77 L459.98,107.41 L458.10,108.02 L456.29,108.60 L454.54,109.14 L452.85,109.64 L451.22,110.11 L449.65,110.55 L448.11,110.95 L446.61,111.32 L445.14,111.65 L443.67,111.95 L442.19,112.23 L440.70,112.48 L439.16,112.70 L437.57,112.91 L435.92,113.10 L434.20,113.27 L432.42,113.43 L430.60,113.57 L428.75,113.70 L426.92,113.81 L425.14,113.91 L423.47,113.99 L421.97,114.06 L420.69,114.11 L419.66,114.15 L418.90,114.17 L418.40,114.19 L418.12,114.20 L418.02,114.20 L418.00,114.20 Z" fill="#287171" fill-opacity="0.75" clip-path="url(#fc0)"/>
<path d="M418.00,114.20 L418.02,114.20 L418.12,114.20 L418.40,114.20 L418.90,114.20 L419.66,114.20 L420.69,114.20 L421.97,114.20 L423.47,114.20 L425.14,114.20 L426.92,114.20 L428.75,114.20 L430.60,114.20 L432.42,114.20 L434.20,114.20 L435.92,114.20 L437.57,114.20 L439.16,114.20 L440.70,114.20 L442.19,114.20 L443.67,114.20 L445.14,114.20 L446.61,114.20 L448.11,114.20 L449.65,114.20 L451.22,114.20 L452.85,114.20 L454.54,114.20 L456.29,114.20 L458.10,114.20 L459.98,114.20 L461.92,114.20 L463.91,114.20 L465.95,114.20 L468.03,114.20 L470.13,114.20 L472.25,114.20 L474.37,114.20 L476.47,114.20 L478.55,114.20 L480.59,114.20 L482.58,114.20 L484.52,114.20 L486.40,114.20 L488.21,114.20 L489.96,114.20 L491.65,114.20 L493.28,114.20 L494.85,114.20 L496.39,114.20 L497.89,114.20 L499.36,114.20 L500.83,114.20 L502.31,114.20 L503.80,114.20 L505.34,114.20 L506.93,114.20 L508.58,114.20 L510.30,114.20 L512.08,114.20 L513.90,114.20 L515.75,114.20 L517.58,114.20 L519.36,114.20 L521.03,114.20 L522.53,114.20 L523.81,114.20 L524.84,114.20 L525.60,114.20 L526.10,114.20 L526.38,114.20 L526.48,114.20 L526.50,114.20 L526.50,128.44 L526.48,128.44 L526.38,128.44 L526.10,128.44 L525.60,128.44 L524.84,128.44 L523.81,128.44 L522.53,128.44 L521.03,128.44 L519.36,128.44 L517.58,128.44 L515.75,128.44 L513.90,128.44 L512.08,128.44 L510.30,128.44 L508.58,128.44 L506.93,128.44 L505.34,128.44 L503.80,128.44 L502.31,128.44 L500.83,128.44 L499.36,128.44 L497.89,128.44 L496.39,128.44 L494.85,128.44 L493.28,128.44 L491.65,128.44 L489.96,128.44 L488.21,128.44 L486.40,128.44 L484.52,128.44 L482.58,128.44 L480.59,128.44 L478.55,128.44 L476.47,128.44 L474.37,128.44 L472.25,128.44 L470.13,128.44 L468.03,128.44 L465.95,128.44 L463.91,128.44 L461.92,128.44 L459.98,128.44 L458.10,128.44 L456.29,128.44 L454.54,128.44 L452.85,128.44 L451.22,128.44 L449.65,128.44 L448.11,128.44 L446.61,128.44 L445.14,128.44 L443.67,128.44 L442.19,128.44 L440.70,128.44 L439.16,128.44 L437.57,128.44 L435.92,128.44 L434.20,128.44 L432.42,128.44 L430.60,128.44 L428.75,128.44 L426.92,128.44 L425.14,128.44 L423.47,128.44 L421.97,128.44 L420.69,128.44 L419.66,128.44 L418.90,128.44 L418.40,128.44 L418.12,128.44 L418.02,128.44 L418.00,128.44 Z" fill="#287171" fill-opacity="0.75" clip-path="url(#fc0)"/>
<rect x="526" y="9.1" width="11.10" height="119.34" fill="#287171" fill-opacity="0.75"/>
<rect x="422.5" y="128.44" width="114.60" height="79.26" fill="#c94be8" fill-opacity="0.92"/>
<rect x="422.5" y="128" width="114.60" height="1" fill="rgb(156, 115, 196)"/>
<rect x="332.4" y="8.6" width="25.10" height="199.30" fill="#D9D9D9" stroke="#555" stroke-width="0.8"/>
<text x="340.3" y="114.45" font-size="13.4" fill="#1a1a1a" stroke="#1a1a1a" stroke-width="0.2" text-anchor="middle" transform="rotate(90 340.3 114.45)" >0</text>
<rect x="357.5" y="8.60" width="65.00" height="45.90" fill="#D9D9D9" stroke="#151515" stroke-width="0.85"/>
<text x="388.5" y="38.35" font-size="13.5" fill="#000" stroke="#000" stroke-width="0.2" text-anchor="middle" >Euploid</text>
<rect x="357.5" y="54.50" width="65.00" height="38.00" fill="#D9D9D9" stroke="#151515" stroke-width="0.85"/>
<text x="388.4" y="80.3" font-size="13.5" fill="#000" stroke="#000" stroke-width="0.2" text-anchor="middle" >Mosaic</text>
<rect x="357.5" y="92.50" width="65.00" height="115.40" fill="#D9D9D9" stroke="#151515" stroke-width="0.85"/>
<text x="390.0" y="157.0" font-size="13.5" fill="#000" stroke="#000" stroke-width="0.2" text-anchor="middle" >Aneuploid</text>
<rect x="537.1" y="8.60" width="64.40" height="45.90" fill="#D9D9D9" stroke="#151515" stroke-width="0.85"/>
<text x="567.85" y="38.35" font-size="13.5" fill="#000" stroke="#000" stroke-width="0.2" text-anchor="middle" >Euploid</text>
<rect x="537.1" y="54.50" width="64.40" height="38.00" fill="#D9D9D9" stroke="#151515" stroke-width="0.85"/>
<text x="567.75" y="80.3" font-size="13.5" fill="#000" stroke="#000" stroke-width="0.2" text-anchor="middle" >Mosaic</text>
<rect x="537.1" y="92.50" width="64.40" height="115.40" fill="#D9D9D9" stroke="#151515" stroke-width="0.85"/>
<text x="569.35" y="157.0" font-size="13.5" fill="#000" stroke="#000" stroke-width="0.2" text-anchor="middle" >Aneuploid</text>
<clipPath id="fc1"><rect x="421.5" y="0" width="104.5" height="681"/></clipPath>
<path d="M418.00,224.90 L418.02,224.90 L418.12,224.90 L418.40,224.90 L418.90,224.90 L419.66,224.90 L420.69,224.90 L421.97,224.90 L423.47,224.90 L425.14,224.90 L426.92,224.90 L428.75,224.90 L430.60,224.90 L432.42,224.90 L434.20,224.90 L435.92,224.90 L437.57,224.90 L439.16,224.90 L440.70,224.90 L442.19,224.90 L443.67,224.90 L445.14,224.90 L446.61,224.90 L448.11,224.90 L449.65,224.90 L451.22,224.90 L452.85,224.90 L454.54,224.90 L456.29,224.90 L458.10,224.90 L459.98,224.90 L461.92,224.90 L463.91,224.90 L465.95,224.90 L468.03,224.90 L470.13,224.90 L472.25,224.90 L474.37,224.90 L476.47,224.90 L478.55,224.90 L480.59,224.90 L482.58,224.90 L484.52,224.90 L486.40,224.90 L488.21,224.90 L489.96,224.90 L491.65,224.90 L493.28,224.90 L494.85,224.90 L496.39,224.90 L497.89,224.90 L499.36,224.90 L500.83,224.90 L502.31,224.90 L503.80,224.90 L505.34,224.90 L506.93,224.90 L508.58,224.90 L510.30,224.90 L512.08,224.90 L513.90,224.90 L515.75,224.90 L517.58,224.90 L519.36,224.90 L521.03,224.90 L522.53,224.90 L523.81,224.90 L524.84,224.90 L525.60,224.90 L526.10,224.90 L526.38,224.90 L526.48,224.90 L526.50,224.90 L526.50,254.80 L526.48,254.80 L526.38,254.80 L526.10,254.80 L525.60,254.80 L524.84,254.80 L523.81,254.80 L522.53,254.80 L521.03,254.80 L519.36,254.80 L517.58,254.80 L515.75,254.80 L513.90,254.80 L512.08,254.80 L510.30,254.80 L508.58,254.80 L506.93,254.80 L505.34,254.80 L503.80,254.80 L502.31,254.80 L500.83,254.80 L499.36,254.80 L497.89,254.80 L496.39,254.80 L494.85,254.80 L493.28,254.80 L491.65,254.80 L489.96,254.80 L488.21,254.80 L486.40,254.80 L484.52,254.80 L482.58,254.80 L480.59,254.80 L478.55,254.80 L476.47,254.80 L474.37,254.80 L472.25,254.80 L470.13,254.80 L468.03,254.80 L465.95,254.80 L463.91,254.80 L461.92,254.80 L459.98,254.80 L458.10,254.80 L456.29,254.80 L454.54,254.80 L452.85,254.80 L451.22,254.80 L449.65,254.80 L448.11,254.80 L446.61,254.80 L445.14,254.80 L443.67,254.80 L442.19,254.80 L440.70,254.80 L439.16,254.80 L437.57,254.80 L435.92,254.80 L434.20,254.80 L432.42,254.80 L430.60,254.80 L428.75,254.80 L426.92,254.80 L425.14,254.80 L423.47,254.80 L421.97,254.80 L420.69,254.80 L419.66,254.80 L418.90,254.80 L418.40,254.80 L418.12,254.80 L418.02,254.80 L418.00,254.80 Z" fill="#287171" fill-opacity="0.75" clip-path="url(#fc1)"/>
<path d="M418.00,254.80 L418.02,254.80 L418.12,254.80 L418.40,254.81 L418.90,254.82 L419.66,254.84 L420.69,254.87 L421.97,254.90 L423.47,254.95 L425.14,255.01 L426.92,255.09 L428.75,255.17 L430.60,255.26 L432.42,255.37 L434.20,255.48 L435.92,255.61 L437.57,255.75 L439.16,255.90 L440.70,256.07 L442.19,256.25 L443.67,256.45 L445.14,256.67 L446.61,256.92 L448.11,257.19 L449.65,257.48 L451.22,257.80 L452.85,258.15 L454.54,258.52 L456.29,258.92 L458.10,259.34 L459.98,259.79 L461.92,260.26 L463.91,260.75 L465.95,261.26 L468.03,261.78 L470.13,262.31 L472.25,262.85 L474.37,263.39 L476.47,263.92 L478.55,264.44 L480.59,264.95 L482.58,265.44 L484.52,265.91 L486.40,266.36 L488.21,266.78 L489.96,267.18 L491.65,267.55 L493.28,267.90 L494.85,268.22 L496.39,268.51 L497.89,268.78 L499.36,269.03 L500.83,269.25 L502.31,269.45 L503.80,269.63 L505.34,269.80 L506.93,269.95 L508.58,270.09 L510.30,270.22 L512.08,270.33 L513.90,270.44 L515.75,270.53 L517.58,270.61 L519.36,270.69 L521.03,270.75 L522.53,270.80 L523.81,270.83 L524.84,270.86 L525.60,270.88 L526.10,270.89 L526.38,270.90 L526.48,270.90 L526.50,270.90 L526.50,286.60 L526.48,286.60 L526.38,286.60 L526.10,286.59 L525.60,286.58 L524.84,286.56 L523.81,286.53 L522.53,286.50 L521.03,286.45 L519.36,286.39 L517.58,286.32 L515.75,286.24 L513.90,286.14 L512.08,286.04 L510.30,285.93 L508.58,285.80 L506.93,285.67 L505.34,285.52 L503.80,285.35 L502.31,285.17 L500.83,284.97 L499.36,284.76 L497.89,284.51 L496.39,284.25 L494.85,283.96 L493.28,283.64 L491.65,283.30 L489.96,282.94 L488.21,282.54 L486.40,282.13 L484.52,281.69 L482.58,281.22 L480.59,280.74 L478.55,280.24 L476.47,279.72 L474.37,279.20 L472.25,278.68 L470.13,278.15 L468.03,277.63 L465.95,277.11 L463.91,276.61 L461.92,276.13 L459.98,275.66 L458.10,275.22 L456.29,274.81 L454.54,274.41 L452.85,274.05 L451.22,273.71 L449.65,273.39 L448.11,273.10 L446.61,272.84 L445.14,272.59 L443.67,272.38 L442.19,272.18 L440.70,272.00 L439.16,271.83 L437.57,271.68 L435.92,271.55 L434.20,271.42 L432.42,271.31 L430.60,271.21 L428.75,271.11 L426.92,271.03 L425.14,270.96 L423.47,270.90 L421.97,270.85 L420.69,270.82 L419.66,270.79 L418.90,270.77 L418.40,270.76 L418.12,270.75 L418.02,270.75 L418.00,270.75 Z" fill="#287171" fill-opacity="0.75" clip-path="url(#fc1)"/>
<path d="M418.00,270.75 L418.02,270.75 L418.12,270.76 L418.40,270.77 L418.90,270.80 L419.66,270.84 L420.69,270.91 L421.97,271.00 L423.47,271.11 L425.14,271.25 L426.92,271.42 L428.75,271.61 L430.60,271.83 L432.42,272.08 L434.20,272.35 L435.92,272.64 L437.57,272.97 L439.16,273.32 L440.70,273.71 L442.19,274.14 L443.67,274.62 L445.14,275.14 L446.61,275.71 L448.11,276.34 L449.65,277.03 L451.22,277.78 L452.85,278.59 L454.54,279.46 L456.29,280.40 L458.10,281.39 L459.98,282.44 L461.92,283.54 L463.91,284.69 L465.95,285.88 L468.03,287.10 L470.13,288.35 L472.25,289.60 L474.37,290.85 L476.47,292.10 L478.55,293.32 L480.59,294.51 L482.58,295.66 L484.52,296.76 L486.40,297.81 L488.21,298.80 L489.96,299.74 L491.65,300.61 L493.28,301.42 L494.85,302.17 L496.39,302.86 L497.89,303.49 L499.36,304.06 L500.83,304.58 L502.31,305.06 L503.80,305.49 L505.34,305.88 L506.93,306.23 L508.58,306.56 L510.30,306.85 L512.08,307.12 L513.90,307.37 L515.75,307.59 L517.58,307.78 L519.36,307.95 L521.03,308.09 L522.53,308.20 L523.81,308.29 L524.84,308.36 L525.60,308.40 L526.10,308.43 L526.38,308.44 L526.48,308.45 L526.50,308.45 L526.50,308.55 L526.48,308.55 L526.38,308.54 L526.10,308.53 L525.60,308.50 L524.84,308.46 L523.81,308.39 L522.53,308.31 L521.03,308.19 L519.36,308.05 L517.58,307.88 L515.75,307.69 L513.90,307.47 L512.08,307.22 L510.30,306.96 L508.58,306.66 L506.93,306.34 L505.34,305.98 L503.80,305.59 L502.31,305.16 L500.83,304.69 L499.36,304.17 L497.89,303.60 L496.39,302.96 L494.85,302.28 L493.28,301.53 L491.65,300.72 L489.96,299.85 L488.21,298.92 L486.40,297.92 L484.52,296.88 L482.58,295.77 L480.59,294.62 L478.55,293.44 L476.47,292.22 L474.37,290.98 L472.25,289.73 L470.13,288.47 L468.03,287.23 L465.95,286.01 L463.91,284.83 L461.92,283.68 L459.98,282.57 L458.10,281.53 L456.29,280.53 L454.54,279.60 L452.85,278.73 L451.22,277.92 L449.65,277.18 L448.11,276.49 L446.61,275.85 L445.14,275.28 L443.67,274.76 L442.19,274.29 L440.70,273.86 L439.16,273.47 L437.57,273.11 L435.92,272.79 L434.20,272.49 L432.42,272.23 L430.60,271.98 L428.75,271.76 L426.92,271.57 L425.14,271.40 L423.47,271.26 L421.97,271.14 L420.69,271.06 L419.66,270.99 L418.90,270.95 L418.40,270.92 L418.12,270.91 L418.02,270.90 L418.00,270.90 Z" fill="#287171" fill-opacity="0.75" clip-path="url(#fc1)"/>
<path d="M418.00,270.90 L418.02,270.90 L418.12,270.90 L418.40,270.89 L418.90,270.88 L419.66,270.86 L420.69,270.83 L421.97,270.80 L423.47,270.75 L425.14,270.69 L426.92,270.61 L428.75,270.53 L430.60,270.44 L432.42,270.33 L434.20,270.22 L435.92,270.09 L437.57,269.95 L439.16,269.80 L440.70,269.63 L442.19,269.45 L443.67,269.25 L445.14,269.03 L446.61,268.78 L448.11,268.51 L449.65,268.22 L451.22,267.90 L452.85,267.55 L454.54,267.18 L456.29,266.78 L458.10,266.36 L459.98,265.91 L461.92,265.44 L463.91,264.95 L465.95,264.44 L468.03,263.92 L470.13,263.39 L472.25,262.85 L474.37,262.31 L476.47,261.78 L478.55,261.26 L480.59,260.75 L482.58,260.26 L484.52,259.79 L486.40,259.34 L488.21,258.92 L489.96,258.52 L491.65,258.15 L493.28,257.80 L494.85,257.48 L496.39,257.19 L497.89,256.92 L499.36,256.67 L500.83,256.45 L502.31,256.25 L503.80,256.07 L505.34,255.90 L506.93,255.75 L508.58,255.61 L510.30,255.48 L512.08,255.37 L513.90,255.26 L515.75,255.17 L517.58,255.09 L519.36,255.01 L521.03,254.95 L522.53,254.90 L523.81,254.87 L524.84,254.84 L525.60,254.82 L526.10,254.81 L526.38,254.80 L526.48,254.80 L526.50,254.80 L526.50,270.75 L526.48,270.75 L526.38,270.75 L526.10,270.76 L525.60,270.77 L524.84,270.79 L523.81,270.82 L522.53,270.85 L521.03,270.90 L519.36,270.96 L517.58,271.03 L515.75,271.11 L513.90,271.21 L512.08,271.31 L510.30,271.42 L508.58,271.55 L506.93,271.68 L505.34,271.83 L503.80,272.00 L502.31,272.18 L500.83,272.38 L499.36,272.59 L497.89,272.84 L496.39,273.10 L494.85,273.39 L493.28,273.71 L491.65,274.05 L489.96,274.41 L488.21,274.81 L486.40,275.22 L484.52,275.66 L482.58,276.13 L480.59,276.61 L478.55,277.11 L476.47,277.63 L474.37,278.15 L472.25,278.68 L470.13,279.20 L468.03,279.72 L465.95,280.24 L463.91,280.74 L461.92,281.22 L459.98,281.69 L458.10,282.13 L456.29,282.54 L454.54,282.94 L452.85,283.30 L451.22,283.64 L449.65,283.96 L448.11,284.25 L446.61,284.51 L445.14,284.76 L443.67,284.97 L442.19,285.17 L440.70,285.35 L439.16,285.52 L437.57,285.67 L435.92,285.80 L434.20,285.93 L432.42,286.04 L430.60,286.14 L428.75,286.24 L426.92,286.32 L425.14,286.39 L423.47,286.45 L421.97,286.50 L420.69,286.53 L419.66,286.56 L418.90,286.58 L418.40,286.59 L418.12,286.60 L418.02,286.60 L418.00,286.60 Z" fill="#287171" fill-opacity="0.75" clip-path="url(#fc1)"/>
<path d="M418.00,286.60 L418.02,286.60 L418.12,286.60 L418.40,286.60 L418.90,286.60 L419.66,286.60 L420.69,286.60 L421.97,286.60 L423.47,286.60 L425.14,286.60 L426.92,286.60 L428.75,286.60 L430.60,286.60 L432.42,286.60 L434.20,286.60 L435.92,286.60 L437.57,286.60 L439.16,286.60 L440.70,286.60 L442.19,286.60 L443.67,286.60 L445.14,286.60 L446.61,286.60 L448.11,286.60 L449.65,286.60 L451.22,286.60 L452.85,286.60 L454.54,286.60 L456.29,286.60 L458.10,286.60 L459.98,286.60 L461.92,286.60 L463.91,286.60 L465.95,286.60 L468.03,286.60 L470.13,286.60 L472.25,286.60 L474.37,286.60 L476.47,286.60 L478.55,286.60 L480.59,286.60 L482.58,286.60 L484.52,286.60 L486.40,286.60 L488.21,286.60 L489.96,286.60 L491.65,286.60 L493.28,286.60 L494.85,286.60 L496.39,286.60 L497.89,286.60 L499.36,286.60 L500.83,286.60 L502.31,286.60 L503.80,286.60 L505.34,286.60 L506.93,286.60 L508.58,286.60 L510.30,286.60 L512.08,286.60 L513.90,286.60 L515.75,286.60 L517.58,286.60 L519.36,286.60 L521.03,286.60 L522.53,286.60 L523.81,286.60 L524.84,286.60 L525.60,286.60 L526.10,286.60 L526.38,286.60 L526.48,286.60 L526.50,286.60 L526.50,307.90 L526.48,307.90 L526.38,307.90 L526.10,307.90 L525.60,307.90 L524.84,307.90 L523.81,307.90 L522.53,307.90 L521.03,307.90 L519.36,307.90 L517.58,307.90 L515.75,307.90 L513.90,307.90 L512.08,307.90 L510.30,307.90 L508.58,307.90 L506.93,307.90 L505.34,307.90 L503.80,307.90 L502.31,307.90 L500.83,307.90 L499.36,307.90 L497.89,307.90 L496.39,307.90 L494.85,307.90 L493.28,307.90 L491.65,307.90 L489.96,307.90 L488.21,307.90 L486.40,307.90 L484.52,307.90 L482.58,307.90 L480.59,307.90 L478.55,307.90 L476.47,307.90 L474.37,307.90 L472.25,307.90 L470.13,307.90 L468.03,307.90 L465.95,307.90 L463.91,307.90 L461.92,307.90 L459.98,307.90 L458.10,307.90 L456.29,307.90 L454.54,307.90 L452.85,307.90 L451.22,307.90 L449.65,307.90 L448.11,307.90 L446.61,307.90 L445.14,307.90 L443.67,307.90 L442.19,307.90 L440.70,307.90 L439.16,307.90 L437.57,307.90 L435.92,307.90 L434.20,307.90 L432.42,307.90 L430.60,307.90 L428.75,307.90 L426.92,307.90 L425.14,307.90 L423.47,307.90 L421.97,307.90 L420.69,307.90 L419.66,307.90 L418.90,307.90 L418.40,307.90 L418.12,307.90 L418.02,307.90 L418.00,307.90 Z" fill="#287171" fill-opacity="0.75" clip-path="url(#fc1)"/>
<path d="M418.00,307.90 L418.02,307.90 L418.12,307.90 L418.40,307.90 L418.90,307.90 L419.66,307.90 L420.69,307.90 L421.97,307.90 L423.47,307.91 L425.14,307.91 L426.92,307.91 L428.75,307.91 L430.60,307.92 L432.42,307.92 L434.20,307.93 L435.92,307.93 L437.57,307.94 L439.16,307.94 L440.70,307.95 L442.19,307.96 L443.67,307.97 L445.14,307.98 L446.61,307.99 L448.11,308.00 L449.65,308.01 L451.22,308.02 L452.85,308.04 L454.54,308.05 L456.29,308.07 L458.10,308.08 L459.98,308.10 L461.92,308.12 L463.91,308.14 L465.95,308.16 L468.03,308.18 L470.13,308.20 L472.25,308.23 L474.37,308.25 L476.47,308.27 L478.55,308.29 L480.59,308.31 L482.58,308.33 L484.52,308.35 L486.40,308.37 L488.21,308.38 L489.96,308.40 L491.65,308.41 L493.28,308.43 L494.85,308.44 L496.39,308.45 L497.89,308.46 L499.36,308.47 L500.83,308.48 L502.31,308.49 L503.80,308.50 L505.34,308.51 L506.93,308.51 L508.58,308.52 L510.30,308.52 L512.08,308.53 L513.90,308.53 L515.75,308.54 L517.58,308.54 L519.36,308.54 L521.03,308.54 L522.53,308.55 L523.81,308.55 L524.84,308.55 L525.60,308.55 L526.10,308.55 L526.38,308.55 L526.48,308.55 L526.50,308.55 L526.50,309.00 L526.48,309.00 L526.38,309.00 L526.10,309.00 L525.60,309.00 L524.84,309.00 L523.81,309.00 L522.53,309.00 L521.03,308.99 L519.36,308.99 L517.58,308.99 L515.75,308.99 L513.90,308.98 L512.08,308.98 L510.30,308.98 L508.58,308.97 L506.93,308.97 L505.34,308.96 L503.80,308.96 L502.31,308.95 L500.83,308.94 L499.36,308.94 L497.89,308.93 L496.39,308.92 L494.85,308.91 L493.28,308.90 L491.65,308.89 L489.96,308.87 L488.21,308.86 L486.40,308.84 L484.52,308.83 L482.58,308.81 L480.59,308.80 L478.55,308.78 L476.47,308.76 L474.37,308.74 L472.25,308.73 L470.13,308.71 L468.03,308.69 L465.95,308.67 L463.91,308.65 L461.92,308.64 L459.98,308.62 L458.10,308.61 L456.29,308.59 L454.54,308.58 L452.85,308.56 L451.22,308.55 L449.65,308.54 L448.11,308.53 L446.61,308.52 L445.14,308.51 L443.67,308.51 L442.19,308.50 L440.70,308.49 L439.16,308.49 L437.57,308.48 L435.92,308.48 L434.20,308.47 L432.42,308.47 L430.60,308.47 L428.75,308.46 L426.92,308.46 L425.14,308.46 L423.47,308.46 L421.97,308.45 L420.69,308.45 L419.66,308.45 L418.90,308.45 L418.40,308.45 L418.12,308.45 L418.02,308.45 L418.00,308.45 Z" fill="#287171" fill-opacity="0.75" clip-path="url(#fc1)"/>
<path d="M418.00,308.45 L418.02,308.45 L418.12,308.44 L418.40,308.43 L418.90,308.40 L419.66,308.36 L420.69,308.29 L421.97,308.20 L423.47,308.09 L425.14,307.95 L426.92,307.78 L428.75,307.59 L430.60,307.37 L432.42,307.12 L434.20,306.85 L435.92,306.56 L437.57,306.23 L439.16,305.88 L440.70,305.49 L442.19,305.06 L443.67,304.58 L445.14,304.06 L446.61,303.49 L448.11,302.86 L449.65,302.17 L451.22,301.42 L452.85,300.61 L454.54,299.74 L456.29,298.80 L458.10,297.81 L459.98,296.76 L461.92,295.66 L463.91,294.51 L465.95,293.32 L468.03,292.10 L470.13,290.85 L472.25,289.60 L474.37,288.35 L476.47,287.10 L478.55,285.88 L480.59,284.69 L482.58,283.54 L484.52,282.44 L486.40,281.39 L488.21,280.40 L489.96,279.46 L491.65,278.59 L493.28,277.78 L494.85,277.03 L496.39,276.34 L497.89,275.71 L499.36,275.14 L500.83,274.62 L502.31,274.14 L503.80,273.71 L505.34,273.32 L506.93,272.97 L508.58,272.64 L510.30,272.35 L512.08,272.08 L513.90,271.83 L515.75,271.61 L517.58,271.42 L519.36,271.25 L521.03,271.11 L522.53,271.00 L523.81,270.91 L524.84,270.84 L525.60,270.80 L526.10,270.77 L526.38,270.76 L526.48,270.75 L526.50,270.75 L526.50,270.90 L526.48,270.90 L526.38,270.91 L526.10,270.92 L525.60,270.95 L524.84,270.99 L523.81,271.06 L522.53,271.14 L521.03,271.26 L519.36,271.40 L517.58,271.57 L515.75,271.76 L513.90,271.98 L512.08,272.23 L510.30,272.49 L508.58,272.79 L506.93,273.11 L505.34,273.47 L503.80,273.86 L502.31,274.29 L500.83,274.76 L499.36,275.28 L497.89,275.85 L496.39,276.49 L494.85,277.18 L493.28,277.92 L491.65,278.73 L489.96,279.60 L488.21,280.53 L486.40,281.53 L484.52,282.57 L482.58,283.68 L480.59,284.83 L478.55,286.01 L476.47,287.23 L474.37,288.47 L472.25,289.73 L470.13,290.98 L468.03,292.22 L465.95,293.44 L463.91,294.62 L461.92,295.77 L459.98,296.88 L458.10,297.92 L456.29,298.92 L454.54,299.85 L452.85,300.72 L451.22,301.53 L449.65,302.28 L448.11,302.96 L446.61,303.60 L445.14,304.17 L443.67,304.69 L442.19,305.16 L440.70,305.59 L439.16,305.98 L437.57,306.34 L435.92,306.66 L434.20,306.96 L432.42,307.22 L430.60,307.47 L428.75,307.69 L426.92,307.88 L425.14,308.05 L423.47,308.19 L421.97,308.31 L420.69,308.39 L419.66,308.46 L418.90,308.50 L418.40,308.53 L418.12,308.54 L418.02,308.55 L418.00,308.55 Z" fill="#287171" fill-opacity="0.75" clip-path="url(#fc1)"/>
<path d="M418.00,308.55 L418.02,308.55 L418.12,308.55 L418.40,308.55 L418.90,308.55 L419.66,308.55 L420.69,308.55 L421.97,308.55 L423.47,308.54 L425.14,308.54 L426.92,308.54 L428.75,308.54 L430.60,308.53 L432.42,308.53 L434.20,308.52 L435.92,308.52 L437.57,308.51 L439.16,308.51 L440.70,308.50 L442.19,308.49 L443.67,308.48 L445.14,308.47 L446.61,308.46 L448.11,308.45 L449.65,308.44 L451.22,308.43 L452.85,308.41 L454.54,308.40 L456.29,308.38 L458.10,308.37 L459.98,308.35 L461.92,308.33 L463.91,308.31 L465.95,308.29 L468.03,308.27 L470.13,308.25 L472.25,308.23 L474.37,308.20 L476.47,308.18 L478.55,308.16 L480.59,308.14 L482.58,308.12 L484.52,308.10 L486.40,308.08 L488.21,308.07 L489.96,308.05 L491.65,308.04 L493.28,308.02 L494.85,308.01 L496.39,308.00 L497.89,307.99 L499.36,307.98 L500.83,307.97 L502.31,307.96 L503.80,307.95 L505.34,307.94 L506.93,307.94 L508.58,307.93 L510.30,307.93 L512.08,307.92 L513.90,307.92 L515.75,307.91 L517.58,307.91 L519.36,307.91 L521.03,307.91 L522.53,307.90 L523.81,307.90 L524.84,307.90 L525.60,307.90 L526.10,307.90 L526.38,307.90 L526.48,307.90 L526.50,307.90 L526.50,308.45 L526.48,308.45 L526.38,308.45 L526.10,308.45 L525.60,308.45 L524.84,308.45 L523.81,308.45 L522.53,308.45 L521.03,308.46 L519.36,308.46 L517.58,308.46 L515.75,308.46 L513.90,308.47 L512.08,308.47 L510.30,308.47 L508.58,308.48 L506.93,308.48 L505.34,308.49 L503.80,308.49 L502.31,308.50 L500.83,308.51 L499.36,308.51 L497.89,308.52 L496.39,308.53 L494.85,308.54 L493.28,308.55 L491.65,308.56 L489.96,308.58 L488.21,308.59 L486.40,308.61 L484.52,308.62 L482.58,308.64 L480.59,308.65 L478.55,308.67 L476.47,308.69 L474.37,308.71 L472.25,308.73 L470.13,308.74 L468.03,308.76 L465.95,308.78 L463.91,308.80 L461.92,308.81 L459.98,308.83 L458.10,308.84 L456.29,308.86 L454.54,308.87 L452.85,308.89 L451.22,308.90 L449.65,308.91 L448.11,308.92 L446.61,308.93 L445.14,308.94 L443.67,308.94 L442.19,308.95 L440.70,308.96 L439.16,308.96 L437.57,308.97 L435.92,308.97 L434.20,308.98 L432.42,308.98 L430.60,308.98 L428.75,308.99 L426.92,308.99 L425.14,308.99 L423.47,308.99 L421.97,309.00 L420.69,309.00 L419.66,309.00 L418.90,309.00 L418.40,309.00 L418.12,309.00 L418.02,309.00 L418.00,309.00 Z" fill="#287171" fill-opacity="0.75" clip-path="url(#fc1)"/>
<path d="M418.00,309.00 L418.02,309.00 L418.12,309.00 L418.40,309.00 L418.90,309.00 L419.66,309.00 L420.69,309.00 L421.97,309.00 L423.47,309.00 L425.14,309.00 L426.92,309.00 L428.75,309.00 L430.60,309.00 L432.42,309.00 L434.20,309.00 L435.92,309.00 L437.57,309.00 L439.16,309.00 L440.70,309.00 L442.19,309.00 L443.67,309.00 L445.14,309.00 L446.61,309.00 L448.11,309.00 L449.65,309.00 L451.22,309.00 L452.85,309.00 L454.54,309.00 L456.29,309.00 L458.10,309.00 L459.98,309.00 L461.92,309.00 L463.91,309.00 L465.95,309.00 L468.03,309.00 L470.13,309.00 L472.25,309.00 L474.37,309.00 L476.47,309.00 L478.55,309.00 L480.59,309.00 L482.58,309.00 L484.52,309.00 L486.40,309.00 L488.21,309.00 L489.96,309.00 L491.65,309.00 L493.28,309.00 L494.85,309.00 L496.39,309.00 L497.89,309.00 L499.36,309.00 L500.83,309.00 L502.31,309.00 L503.80,309.00 L505.34,309.00 L506.93,309.00 L508.58,309.00 L510.30,309.00 L512.08,309.00 L513.90,309.00 L515.75,309.00 L517.58,309.00 L519.36,309.00 L521.03,309.00 L522.53,309.00 L523.81,309.00 L524.84,309.00 L525.60,309.00 L526.10,309.00 L526.38,309.00 L526.48,309.00 L526.50,309.00 L526.50,309.90 L526.48,309.90 L526.38,309.90 L526.10,309.90 L525.60,309.90 L524.84,309.90 L523.81,309.90 L522.53,309.90 L521.03,309.90 L519.36,309.90 L517.58,309.90 L515.75,309.90 L513.90,309.90 L512.08,309.90 L510.30,309.90 L508.58,309.90 L506.93,309.90 L505.34,309.90 L503.80,309.90 L502.31,309.90 L500.83,309.90 L499.36,309.90 L497.89,309.90 L496.39,309.90 L494.85,309.90 L493.28,309.90 L491.65,309.90 L489.96,309.90 L488.21,309.90 L486.40,309.90 L484.52,309.90 L482.58,309.90 L480.59,309.90 L478.55,309.90 L476.47,309.90 L474.37,309.90 L472.25,309.90 L470.13,309.90 L468.03,309.90 L465.95,309.90 L463.91,309.90 L461.92,309.90 L459.98,309.90 L458.10,309.90 L456.29,309.90 L454.54,309.90 L452.85,309.90 L451.22,309.90 L449.65,309.90 L448.11,309.90 L446.61,309.90 L445.14,309.90 L443.67,309.90 L442.19,309.90 L440.70,309.90 L439.16,309.90 L437.57,309.90 L435.92,309.90 L434.20,309.90 L432.42,309.90 L430.60,309.90 L428.75,309.90 L426.92,309.90 L425.14,309.90 L423.47,309.90 L421.97,309.90 L420.69,309.90 L419.66,309.90 L418.90,309.90 L418.40,309.90 L418.12,309.90 L418.02,309.90 L418.00,309.90 Z" fill="#287171" fill-opacity="0.75" clip-path="url(#fc1)"/>
<rect x="526" y="224.9" width="11.30" height="85.00" fill="#287171" fill-opacity="0.75"/>
<rect x="421.5" y="309.9" width="115.80" height="113.90" fill="#c94be8" fill-opacity="0.92"/>
<rect x="421.5" y="309" width="115.80" height="1" fill="rgb(105, 143, 157)"/>
<rect x="332.4" y="224.7" width="25.50" height="199.30" fill="#D9D9D9" stroke="#555" stroke-width="0.8"/>
<text x="340.3" y="330.55" font-size="13.4" fill="#1a1a1a" stroke="#1a1a1a" stroke-width="0.2" text-anchor="middle" transform="rotate(90 340.3 330.55)" >0.5</text>
<rect x="357.9" y="224.70" width="63.60" height="46.20" fill="#D9D9D9" stroke="#151515" stroke-width="0.85"/>
<text x="388.5" y="254.6" font-size="13.5" fill="#000" stroke="#000" stroke-width="0.2" text-anchor="middle" >Euploid</text>
<rect x="357.9" y="270.90" width="63.60" height="37.60" fill="#D9D9D9" stroke="#151515" stroke-width="0.85"/>
<text x="388.4" y="296.5" font-size="13.5" fill="#000" stroke="#000" stroke-width="0.2" text-anchor="middle" >Mosaic</text>
<rect x="357.9" y="308.50" width="63.60" height="115.50" fill="#D9D9D9" stroke="#151515" stroke-width="0.85"/>
<text x="390.0" y="373.05" font-size="13.5" fill="#000" stroke="#000" stroke-width="0.2" text-anchor="middle" >Aneuploid</text>
<rect x="537.3" y="224.70" width="63.80" height="46.20" fill="#D9D9D9" stroke="#151515" stroke-width="0.85"/>
<text x="567.85" y="254.6" font-size="13.5" fill="#000" stroke="#000" stroke-width="0.2" text-anchor="middle" >Euploid</text>
<rect x="537.3" y="270.90" width="63.80" height="37.60" fill="#D9D9D9" stroke="#151515" stroke-width="0.85"/>
<text x="567.75" y="296.5" font-size="13.5" fill="#000" stroke="#000" stroke-width="0.2" text-anchor="middle" >Mosaic</text>
<rect x="537.3" y="308.50" width="63.80" height="115.50" fill="#D9D9D9" stroke="#151515" stroke-width="0.85"/>
<text x="569.35" y="373.05" font-size="13.5" fill="#000" stroke="#000" stroke-width="0.2" text-anchor="middle" >Aneuploid</text>
<clipPath id="fc2"><rect x="421.5" y="0" width="104.5" height="681"/></clipPath>
<path d="M418.00,441.50 L418.02,441.50 L418.12,441.50 L418.40,441.50 L418.90,441.50 L419.66,441.50 L420.69,441.50 L421.97,441.50 L423.47,441.50 L425.14,441.50 L426.92,441.50 L428.75,441.50 L430.60,441.50 L432.42,441.50 L434.20,441.50 L435.92,441.50 L437.57,441.50 L439.16,441.50 L440.70,441.50 L442.19,441.50 L443.67,441.50 L445.14,441.50 L446.61,441.50 L448.11,441.50 L449.65,441.50 L451.22,441.50 L452.85,441.50 L454.54,441.50 L456.29,441.50 L458.10,441.50 L459.98,441.50 L461.92,441.50 L463.91,441.50 L465.95,441.50 L468.03,441.50 L470.13,441.50 L472.25,441.50 L474.37,441.50 L476.47,441.50 L478.55,441.50 L480.59,441.50 L482.58,441.50 L484.52,441.50 L486.40,441.50 L488.21,441.50 L489.96,441.50 L491.65,441.50 L493.28,441.50 L494.85,441.50 L496.39,441.50 L497.89,441.50 L499.36,441.50 L500.83,441.50 L502.31,441.50 L503.80,441.50 L505.34,441.50 L506.93,441.50 L508.58,441.50 L510.30,441.50 L512.08,441.50 L513.90,441.50 L515.75,441.50 L517.58,441.50 L519.36,441.50 L521.03,441.50 L522.53,441.50 L523.81,441.50 L524.84,441.50 L525.60,441.50 L526.10,441.50 L526.38,441.50 L526.48,441.50 L526.50,441.50 L526.50,472.60 L526.48,472.60 L526.38,472.60 L526.10,472.60 L525.60,472.60 L524.84,472.60 L523.81,472.60 L522.53,472.60 L521.03,472.60 L519.36,472.60 L517.58,472.60 L515.75,472.60 L513.90,472.60 L512.08,472.60 L510.30,472.60 L508.58,472.60 L506.93,472.60 L505.34,472.60 L503.80,472.60 L502.31,472.60 L500.83,472.60 L499.36,472.60 L497.89,472.60 L496.39,472.60 L494.85,472.60 L493.28,472.60 L491.65,472.60 L489.96,472.60 L488.21,472.60 L486.40,472.60 L484.52,472.60 L482.58,472.60 L480.59,472.60 L478.55,472.60 L476.47,472.60 L474.37,472.60 L472.25,472.60 L470.13,472.60 L468.03,472.60 L465.95,472.60 L463.91,472.60 L461.92,472.60 L459.98,472.60 L458.10,472.60 L456.29,472.60 L454.54,472.60 L452.85,472.60 L451.22,472.60 L449.65,472.60 L448.11,472.60 L446.61,472.60 L445.14,472.60 L443.67,472.60 L442.19,472.60 L440.70,472.60 L439.16,472.60 L437.57,472.60 L435.92,472.60 L434.20,472.60 L432.42,472.60 L430.60,472.60 L428.75,472.60 L426.92,472.60 L425.14,472.60 L423.47,472.60 L421.97,472.60 L420.69,472.60 L419.66,472.60 L418.90,472.60 L418.40,472.60 L418.12,472.60 L418.02,472.60 L418.00,472.60 Z" fill="#287171" fill-opacity="0.75" clip-path="url(#fc2)"/>
<path d="M418.00,472.60 L418.02,472.60 L418.12,472.60 L418.40,472.61 L418.90,472.62 L419.66,472.63 L420.69,472.66 L421.97,472.69 L423.47,472.74 L425.14,472.79 L426.92,472.85 L428.75,472.93 L430.60,473.01 L432.42,473.10 L434.20,473.21 L435.92,473.32 L437.57,473.44 L439.16,473.58 L440.70,473.72 L442.19,473.89 L443.67,474.07 L445.14,474.26 L446.61,474.48 L448.11,474.72 L449.65,474.98 L451.22,475.27 L452.85,475.57 L454.54,475.91 L456.29,476.26 L458.10,476.64 L459.98,477.03 L461.92,477.45 L463.91,477.89 L465.95,478.34 L468.03,478.80 L470.13,479.27 L472.25,479.75 L474.37,480.23 L476.47,480.70 L478.55,481.16 L480.59,481.61 L482.58,482.05 L484.52,482.47 L486.40,482.86 L488.21,483.24 L489.96,483.59 L491.65,483.93 L493.28,484.23 L494.85,484.52 L496.39,484.78 L497.89,485.02 L499.36,485.24 L500.83,485.43 L502.31,485.61 L503.80,485.78 L505.34,485.92 L506.93,486.06 L508.58,486.18 L510.30,486.29 L512.08,486.40 L513.90,486.49 L515.75,486.57 L517.58,486.65 L519.36,486.71 L521.03,486.76 L522.53,486.81 L523.81,486.84 L524.84,486.87 L525.60,486.88 L526.10,486.89 L526.38,486.90 L526.48,486.90 L526.50,486.90 L526.50,502.00 L526.48,502.00 L526.38,502.00 L526.10,501.99 L525.60,501.98 L524.84,501.96 L523.81,501.94 L522.53,501.90 L521.03,501.85 L519.36,501.80 L517.58,501.73 L515.75,501.65 L513.90,501.56 L512.08,501.47 L510.30,501.36 L508.58,501.24 L506.93,501.11 L505.34,500.96 L503.80,500.81 L502.31,500.63 L500.83,500.44 L499.36,500.23 L497.89,500.00 L496.39,499.75 L494.85,499.47 L493.28,499.17 L491.65,498.84 L489.96,498.49 L488.21,498.12 L486.40,497.72 L484.52,497.29 L482.58,496.85 L480.59,496.39 L478.55,495.91 L476.47,495.41 L474.37,494.91 L472.25,494.41 L470.13,493.91 L468.03,493.41 L465.95,492.91 L463.91,492.43 L461.92,491.97 L459.98,491.53 L458.10,491.10 L456.29,490.70 L454.54,490.33 L452.85,489.98 L451.22,489.65 L449.65,489.35 L448.11,489.07 L446.61,488.82 L445.14,488.59 L443.67,488.38 L442.19,488.19 L440.70,488.01 L439.16,487.86 L437.57,487.71 L435.92,487.58 L434.20,487.46 L432.42,487.35 L430.60,487.26 L428.75,487.17 L426.92,487.09 L425.14,487.02 L423.47,486.97 L421.97,486.92 L420.69,486.88 L419.66,486.86 L418.90,486.84 L418.40,486.83 L418.12,486.82 L418.02,486.82 L418.00,486.82 Z" fill="#287171" fill-opacity="0.75" clip-path="url(#fc2)"/>
<path d="M418.00,486.82 L418.02,486.82 L418.12,486.83 L418.40,486.84 L418.90,486.87 L419.66,486.91 L420.69,486.97 L421.97,487.06 L423.47,487.18 L425.14,487.32 L426.92,487.49 L428.75,487.68 L430.60,487.90 L432.42,488.14 L434.20,488.41 L435.92,488.70 L437.57,489.02 L439.16,489.38 L440.70,489.77 L442.19,490.19 L443.67,490.66 L445.14,491.18 L446.61,491.75 L448.11,492.38 L449.65,493.07 L451.22,493.81 L452.85,494.62 L454.54,495.48 L456.29,496.41 L458.10,497.40 L459.98,498.44 L461.92,499.54 L463.91,500.68 L465.95,501.87 L468.03,503.08 L470.13,504.31 L472.25,505.56 L474.37,506.81 L476.47,508.04 L478.55,509.25 L480.59,510.44 L482.58,511.58 L484.52,512.68 L486.40,513.72 L488.21,514.71 L489.96,515.64 L491.65,516.50 L493.28,517.31 L494.85,518.05 L496.39,518.74 L497.89,519.37 L499.36,519.94 L500.83,520.46 L502.31,520.93 L503.80,521.35 L505.34,521.74 L506.93,522.10 L508.58,522.42 L510.30,522.71 L512.08,522.98 L513.90,523.22 L515.75,523.44 L517.58,523.63 L519.36,523.80 L521.03,523.94 L522.53,524.06 L523.81,524.15 L524.84,524.21 L525.60,524.25 L526.10,524.28 L526.38,524.29 L526.48,524.30 L526.50,524.30 L526.50,524.35 L526.48,524.35 L526.38,524.34 L526.10,524.33 L525.60,524.30 L524.84,524.26 L523.81,524.20 L522.53,524.11 L521.03,523.99 L519.36,523.85 L517.58,523.68 L515.75,523.49 L513.90,523.27 L512.08,523.03 L510.30,522.76 L508.58,522.47 L506.93,522.15 L505.34,521.79 L503.80,521.41 L502.31,520.98 L500.83,520.51 L499.36,519.99 L497.89,519.42 L496.39,518.79 L494.85,518.11 L493.28,517.36 L491.65,516.56 L489.96,515.69 L488.21,514.77 L486.40,513.78 L484.52,512.74 L482.58,511.64 L480.59,510.50 L478.55,509.32 L476.47,508.10 L474.37,506.87 L472.25,505.62 L470.13,504.38 L468.03,503.15 L465.95,501.93 L463.91,500.75 L461.92,499.61 L459.98,498.51 L458.10,497.47 L456.29,496.48 L454.54,495.56 L452.85,494.69 L451.22,493.89 L449.65,493.14 L448.11,492.46 L446.61,491.83 L445.14,491.26 L443.67,490.74 L442.19,490.27 L440.70,489.84 L439.16,489.46 L437.57,489.10 L435.92,488.78 L434.20,488.49 L432.42,488.22 L430.60,487.98 L428.75,487.76 L426.92,487.57 L425.14,487.40 L423.47,487.26 L421.97,487.14 L420.69,487.05 L419.66,486.99 L418.90,486.95 L418.40,486.92 L418.12,486.91 L418.02,486.90 L418.00,486.90 Z" fill="#287171" fill-opacity="0.75" clip-path="url(#fc2)"/>
<path d="M418.00,486.90 L418.02,486.90 L418.12,486.90 L418.40,486.89 L418.90,486.88 L419.66,486.87 L420.69,486.84 L421.97,486.81 L423.47,486.76 L425.14,486.71 L426.92,486.65 L428.75,486.57 L430.60,486.49 L432.42,486.40 L434.20,486.29 L435.92,486.18 L437.57,486.06 L439.16,485.92 L440.70,485.78 L442.19,485.61 L443.67,485.43 L445.14,485.24 L446.61,485.02 L448.11,484.78 L449.65,484.52 L451.22,484.23 L452.85,483.93 L454.54,483.59 L456.29,483.24 L458.10,482.86 L459.98,482.47 L461.92,482.05 L463.91,481.61 L465.95,481.16 L468.03,480.70 L470.13,480.23 L472.25,479.75 L474.37,479.27 L476.47,478.80 L478.55,478.34 L480.59,477.89 L482.58,477.45 L484.52,477.03 L486.40,476.64 L488.21,476.26 L489.96,475.91 L491.65,475.57 L493.28,475.27 L494.85,474.98 L496.39,474.72 L497.89,474.48 L499.36,474.26 L500.83,474.07 L502.31,473.89 L503.80,473.72 L505.34,473.58 L506.93,473.44 L508.58,473.32 L510.30,473.21 L512.08,473.10 L513.90,473.01 L515.75,472.93 L517.58,472.85 L519.36,472.79 L521.03,472.74 L522.53,472.69 L523.81,472.66 L524.84,472.63 L525.60,472.62 L526.10,472.61 L526.38,472.60 L526.48,472.60 L526.50,472.60 L526.50,486.82 L526.48,486.82 L526.38,486.82 L526.10,486.83 L525.60,486.84 L524.84,486.86 L523.81,486.88 L522.53,486.92 L521.03,486.97 L519.36,487.02 L517.58,487.09 L515.75,487.17 L513.90,487.26 L512.08,487.35 L510.30,487.46 L508.58,487.58 L506.93,487.71 L505.34,487.86 L503.80,488.01 L502.31,488.19 L500.83,488.38 L499.36,488.59 L497.89,488.82 L496.39,489.07 L494.85,489.35 L493.28,489.65 L491.65,489.98 L489.96,490.33 L488.21,490.70 L486.40,491.10 L484.52,491.53 L482.58,491.97 L480.59,492.43 L478.55,492.91 L476.47,493.41 L474.37,493.91 L472.25,494.41 L470.13,494.91 L468.03,495.41 L465.95,495.91 L463.91,496.39 L461.92,496.85 L459.98,497.29 L458.10,497.72 L456.29,498.12 L454.54,498.49 L452.85,498.84 L451.22,499.17 L449.65,499.47 L448.11,499.75 L446.61,500.00 L445.14,500.23 L443.67,500.44 L442.19,500.63 L440.70,500.81 L439.16,500.96 L437.57,501.11 L435.92,501.24 L434.20,501.36 L432.42,501.47 L430.60,501.56 L428.75,501.65 L426.92,501.73 L425.14,501.80 L423.47,501.85 L421.97,501.90 L420.69,501.94 L419.66,501.96 L418.90,501.98 L418.40,501.99 L418.12,502.00 L418.02,502.00 L418.00,502.00 Z" fill="#287171" fill-opacity="0.75" clip-path="url(#fc2)"/>
<path d="M418.00,502.00 L418.02,502.00 L418.12,502.00 L418.40,502.00 L418.90,502.00 L419.66,502.00 L420.69,502.00 L421.97,502.00 L423.47,502.00 L425.14,502.00 L426.92,502.00 L428.75,502.00 L430.60,502.00 L432.42,502.00 L434.20,502.00 L435.92,502.00 L437.57,502.00 L439.16,502.00 L440.70,502.00 L442.19,502.00 L443.67,502.00 L445.14,502.00 L446.61,502.00 L448.11,502.00 L449.65,502.00 L451.22,502.00 L452.85,502.00 L454.54,502.00 L456.29,502.00 L458.10,502.00 L459.98,502.00 L461.92,502.00 L463.91,502.00 L465.95,502.00 L468.03,502.00 L470.13,502.00 L472.25,502.00 L474.37,502.00 L476.47,502.00 L478.55,502.00 L480.59,502.00 L482.58,502.00 L484.52,502.00 L486.40,502.00 L488.21,502.00 L489.96,502.00 L491.65,502.00 L493.28,502.00 L494.85,502.00 L496.39,502.00 L497.89,502.00 L499.36,502.00 L500.83,502.00 L502.31,502.00 L503.80,502.00 L505.34,502.00 L506.93,502.00 L508.58,502.00 L510.30,502.00 L512.08,502.00 L513.90,502.00 L515.75,502.00 L517.58,502.00 L519.36,502.00 L521.03,502.00 L522.53,502.00 L523.81,502.00 L524.84,502.00 L525.60,502.00 L526.10,502.00 L526.38,502.00 L526.48,502.00 L526.50,502.00 L526.50,524.00 L526.48,524.00 L526.38,524.00 L526.10,524.00 L525.60,524.00 L524.84,524.00 L523.81,524.00 L522.53,524.00 L521.03,524.00 L519.36,524.00 L517.58,524.00 L515.75,524.00 L513.90,524.00 L512.08,524.00 L510.30,524.00 L508.58,524.00 L506.93,524.00 L505.34,524.00 L503.80,524.00 L502.31,524.00 L500.83,524.00 L499.36,524.00 L497.89,524.00 L496.39,524.00 L494.85,524.00 L493.28,524.00 L491.65,524.00 L489.96,524.00 L488.21,524.00 L486.40,524.00 L484.52,524.00 L482.58,524.00 L480.59,524.00 L478.55,524.00 L476.47,524.00 L474.37,524.00 L472.25,524.00 L470.13,524.00 L468.03,524.00 L465.95,524.00 L463.91,524.00 L461.92,524.00 L459.98,524.00 L458.10,524.00 L456.29,524.00 L454.54,524.00 L452.85,524.00 L451.22,524.00 L449.65,524.00 L448.11,524.00 L446.61,524.00 L445.14,524.00 L443.67,524.00 L442.19,524.00 L440.70,524.00 L439.16,524.00 L437.57,524.00 L435.92,524.00 L434.20,524.00 L432.42,524.00 L430.60,524.00 L428.75,524.00 L426.92,524.00 L425.14,524.00 L423.47,524.00 L421.97,524.00 L420.69,524.00 L419.66,524.00 L418.90,524.00 L418.40,524.00 L418.12,524.00 L418.02,524.00 L418.00,524.00 Z" fill="#287171" fill-opacity="0.75" clip-path="url(#fc2)"/>
<path d="M418.00,524.00 L418.02,524.00 L418.12,524.00 L418.40,524.00 L418.90,524.00 L419.66,524.00 L420.69,524.00 L421.97,524.00 L423.47,524.00 L425.14,524.00 L426.92,524.01 L428.75,524.01 L430.60,524.01 L432.42,524.01 L434.20,524.01 L435.92,524.02 L437.57,524.02 L439.16,524.02 L440.70,524.03 L442.19,524.03 L443.67,524.04 L445.14,524.04 L446.61,524.05 L448.11,524.05 L449.65,524.06 L451.22,524.07 L452.85,524.07 L454.54,524.08 L456.29,524.09 L458.10,524.10 L459.98,524.11 L461.92,524.12 L463.91,524.13 L465.95,524.14 L468.03,524.15 L470.13,524.16 L472.25,524.17 L474.37,524.19 L476.47,524.20 L478.55,524.21 L480.59,524.22 L482.58,524.23 L484.52,524.24 L486.40,524.25 L488.21,524.26 L489.96,524.27 L491.65,524.28 L493.28,524.28 L494.85,524.29 L496.39,524.30 L497.89,524.30 L499.36,524.31 L500.83,524.31 L502.31,524.32 L503.80,524.32 L505.34,524.33 L506.93,524.33 L508.58,524.33 L510.30,524.34 L512.08,524.34 L513.90,524.34 L515.75,524.34 L517.58,524.34 L519.36,524.35 L521.03,524.35 L522.53,524.35 L523.81,524.35 L524.84,524.35 L525.60,524.35 L526.10,524.35 L526.38,524.35 L526.48,524.35 L526.50,524.35 L526.50,524.55 L526.48,524.55 L526.38,524.55 L526.10,524.55 L525.60,524.55 L524.84,524.55 L523.81,524.55 L522.53,524.55 L521.03,524.55 L519.36,524.55 L517.58,524.55 L515.75,524.54 L513.90,524.54 L512.08,524.54 L510.30,524.54 L508.58,524.54 L506.93,524.54 L505.34,524.53 L503.80,524.53 L502.31,524.53 L500.83,524.52 L499.36,524.52 L497.89,524.52 L496.39,524.51 L494.85,524.51 L493.28,524.50 L491.65,524.50 L489.96,524.49 L488.21,524.49 L486.40,524.48 L484.52,524.47 L482.58,524.47 L480.59,524.46 L478.55,524.45 L476.47,524.44 L474.37,524.43 L472.25,524.42 L470.13,524.42 L468.03,524.41 L465.95,524.40 L463.91,524.39 L461.92,524.38 L459.98,524.38 L458.10,524.37 L456.29,524.36 L454.54,524.36 L452.85,524.35 L451.22,524.35 L449.65,524.34 L448.11,524.34 L446.61,524.33 L445.14,524.33 L443.67,524.33 L442.19,524.32 L440.70,524.32 L439.16,524.32 L437.57,524.31 L435.92,524.31 L434.20,524.31 L432.42,524.31 L430.60,524.31 L428.75,524.31 L426.92,524.30 L425.14,524.30 L423.47,524.30 L421.97,524.30 L420.69,524.30 L419.66,524.30 L418.90,524.30 L418.40,524.30 L418.12,524.30 L418.02,524.30 L418.00,524.30 Z" fill="#287171" fill-opacity="0.75" clip-path="url(#fc2)"/>
<path d="M418.00,524.30 L418.02,524.30 L418.12,524.29 L418.40,524.28 L418.90,524.25 L419.66,524.21 L420.69,524.15 L421.97,524.06 L423.47,523.94 L425.14,523.80 L426.92,523.63 L428.75,523.44 L430.60,523.22 L432.42,522.98 L434.20,522.71 L435.92,522.42 L437.57,522.10 L439.16,521.74 L440.70,521.35 L442.19,520.93 L443.67,520.46 L445.14,519.94 L446.61,519.37 L448.11,518.74 L449.65,518.05 L451.22,517.31 L452.85,516.50 L454.54,515.64 L456.29,514.71 L458.10,513.72 L459.98,512.68 L461.92,511.58 L463.91,510.44 L465.95,509.25 L468.03,508.04 L470.13,506.81 L472.25,505.56 L474.37,504.31 L476.47,503.08 L478.55,501.87 L480.59,500.68 L482.58,499.54 L484.52,498.44 L486.40,497.40 L488.21,496.41 L489.96,495.48 L491.65,494.62 L493.28,493.81 L494.85,493.07 L496.39,492.38 L497.89,491.75 L499.36,491.18 L500.83,490.66 L502.31,490.19 L503.80,489.77 L505.34,489.38 L506.93,489.02 L508.58,488.70 L510.30,488.41 L512.08,488.14 L513.90,487.90 L515.75,487.68 L517.58,487.49 L519.36,487.32 L521.03,487.18 L522.53,487.06 L523.81,486.97 L524.84,486.91 L525.60,486.87 L526.10,486.84 L526.38,486.83 L526.48,486.82 L526.50,486.82 L526.50,486.90 L526.48,486.90 L526.38,486.91 L526.10,486.92 L525.60,486.95 L524.84,486.99 L523.81,487.05 L522.53,487.14 L521.03,487.26 L519.36,487.40 L517.58,487.57 L515.75,487.76 L513.90,487.98 L512.08,488.22 L510.30,488.49 L508.58,488.78 L506.93,489.10 L505.34,489.46 L503.80,489.84 L502.31,490.27 L500.83,490.74 L499.36,491.26 L497.89,491.83 L496.39,492.46 L494.85,493.14 L493.28,493.89 L491.65,494.69 L489.96,495.56 L488.21,496.48 L486.40,497.47 L484.52,498.51 L482.58,499.61 L480.59,500.75 L478.55,501.93 L476.47,503.15 L474.37,504.38 L472.25,505.62 L470.13,506.87 L468.03,508.10 L465.95,509.32 L463.91,510.50 L461.92,511.64 L459.98,512.74 L458.10,513.78 L456.29,514.77 L454.54,515.69 L452.85,516.56 L451.22,517.36 L449.65,518.11 L448.11,518.79 L446.61,519.42 L445.14,519.99 L443.67,520.51 L442.19,520.98 L440.70,521.41 L439.16,521.79 L437.57,522.15 L435.92,522.47 L434.20,522.76 L432.42,523.03 L430.60,523.27 L428.75,523.49 L426.92,523.68 L425.14,523.85 L423.47,523.99 L421.97,524.11 L420.69,524.20 L419.66,524.26 L418.90,524.30 L418.40,524.33 L418.12,524.34 L418.02,524.35 L418.00,524.35 Z" fill="#287171" fill-opacity="0.75" clip-path="url(#fc2)"/>
<path d="M418.00,524.35 L418.02,524.35 L418.12,524.35 L418.40,524.35 L418.90,524.35 L419.66,524.35 L420.69,524.35 L421.97,524.35 L423.47,524.35 L425.14,524.35 L426.92,524.34 L428.75,524.34 L430.60,524.34 L432.42,524.34 L434.20,524.34 L435.92,524.33 L437.57,524.33 L439.16,524.33 L440.70,524.32 L442.19,524.32 L443.67,524.31 L445.14,524.31 L446.61,524.30 L448.11,524.30 L449.65,524.29 L451.22,524.28 L452.85,524.28 L454.54,524.27 L456.29,524.26 L458.10,524.25 L459.98,524.24 L461.92,524.23 L463.91,524.22 L465.95,524.21 L468.03,524.20 L470.13,524.19 L472.25,524.17 L474.37,524.16 L476.47,524.15 L478.55,524.14 L480.59,524.13 L482.58,524.12 L484.52,524.11 L486.40,524.10 L488.21,524.09 L489.96,524.08 L491.65,524.07 L493.28,524.07 L494.85,524.06 L496.39,524.05 L497.89,524.05 L499.36,524.04 L500.83,524.04 L502.31,524.03 L503.80,524.03 L505.34,524.02 L506.93,524.02 L508.58,524.02 L510.30,524.01 L512.08,524.01 L513.90,524.01 L515.75,524.01 L517.58,524.01 L519.36,524.00 L521.03,524.00 L522.53,524.00 L523.81,524.00 L524.84,524.00 L525.60,524.00 L526.10,524.00 L526.38,524.00 L526.48,524.00 L526.50,524.00 L526.50,524.30 L526.48,524.30 L526.38,524.30 L526.10,524.30 L525.60,524.30 L524.84,524.30 L523.81,524.30 L522.53,524.30 L521.03,524.30 L519.36,524.30 L517.58,524.30 L515.75,524.31 L513.90,524.31 L512.08,524.31 L510.30,524.31 L508.58,524.31 L506.93,524.31 L505.34,524.32 L503.80,524.32 L502.31,524.32 L500.83,524.33 L499.36,524.33 L497.89,524.33 L496.39,524.34 L494.85,524.34 L493.28,524.35 L491.65,524.35 L489.96,524.36 L488.21,524.36 L486.40,524.37 L484.52,524.38 L482.58,524.38 L480.59,524.39 L478.55,524.40 L476.47,524.41 L474.37,524.42 L472.25,524.42 L470.13,524.43 L468.03,524.44 L465.95,524.45 L463.91,524.46 L461.92,524.47 L459.98,524.47 L458.10,524.48 L456.29,524.49 L454.54,524.49 L452.85,524.50 L451.22,524.50 L449.65,524.51 L448.11,524.51 L446.61,524.52 L445.14,524.52 L443.67,524.52 L442.19,524.53 L440.70,524.53 L439.16,524.53 L437.57,524.54 L435.92,524.54 L434.20,524.54 L432.42,524.54 L430.60,524.54 L428.75,524.54 L426.92,524.55 L425.14,524.55 L423.47,524.55 L421.97,524.55 L420.69,524.55 L419.66,524.55 L418.90,524.55 L418.40,524.55 L418.12,524.55 L418.02,524.55 L418.00,524.55 Z" fill="#287171" fill-opacity="0.75" clip-path="url(#fc2)"/>
<path d="M418.00,524.55 L418.02,524.55 L418.12,524.55 L418.40,524.55 L418.90,524.55 L419.66,524.55 L420.69,524.55 L421.97,524.55 L423.47,524.55 L425.14,524.55 L426.92,524.55 L428.75,524.55 L430.60,524.55 L432.42,524.55 L434.20,524.55 L435.92,524.55 L437.57,524.55 L439.16,524.55 L440.70,524.55 L442.19,524.55 L443.67,524.55 L445.14,524.55 L446.61,524.55 L448.11,524.55 L449.65,524.55 L451.22,524.55 L452.85,524.55 L454.54,524.55 L456.29,524.55 L458.10,524.55 L459.98,524.55 L461.92,524.55 L463.91,524.55 L465.95,524.55 L468.03,524.55 L470.13,524.55 L472.25,524.55 L474.37,524.55 L476.47,524.55 L478.55,524.55 L480.59,524.55 L482.58,524.55 L484.52,524.55 L486.40,524.55 L488.21,524.55 L489.96,524.55 L491.65,524.55 L493.28,524.55 L494.85,524.55 L496.39,524.55 L497.89,524.55 L499.36,524.55 L500.83,524.55 L502.31,524.55 L503.80,524.55 L505.34,524.55 L506.93,524.55 L508.58,524.55 L510.30,524.55 L512.08,524.55 L513.90,524.55 L515.75,524.55 L517.58,524.55 L519.36,524.55 L521.03,524.55 L522.53,524.55 L523.81,524.55 L524.84,524.55 L525.60,524.55 L526.10,524.55 L526.38,524.55 L526.48,524.55 L526.50,524.55 L526.50,525.00 L526.48,525.00 L526.38,525.00 L526.10,525.00 L525.60,525.00 L524.84,525.00 L523.81,525.00 L522.53,525.00 L521.03,525.00 L519.36,525.00 L517.58,525.00 L515.75,525.00 L513.90,525.00 L512.08,525.00 L510.30,525.00 L508.58,525.00 L506.93,525.00 L505.34,525.00 L503.80,525.00 L502.31,525.00 L500.83,525.00 L499.36,525.00 L497.89,525.00 L496.39,525.00 L494.85,525.00 L493.28,525.00 L491.65,525.00 L489.96,525.00 L488.21,525.00 L486.40,525.00 L484.52,525.00 L482.58,525.00 L480.59,525.00 L478.55,525.00 L476.47,525.00 L474.37,525.00 L472.25,525.00 L470.13,525.00 L468.03,525.00 L465.95,525.00 L463.91,525.00 L461.92,525.00 L459.98,525.00 L458.10,525.00 L456.29,525.00 L454.54,525.00 L452.85,525.00 L451.22,525.00 L449.65,525.00 L448.11,525.00 L446.61,525.00 L445.14,525.00 L443.67,525.00 L442.19,525.00 L440.70,525.00 L439.16,525.00 L437.57,525.00 L435.92,525.00 L434.20,525.00 L432.42,525.00 L430.60,525.00 L428.75,525.00 L426.92,525.00 L425.14,525.00 L423.47,525.00 L421.97,525.00 L420.69,525.00 L419.66,525.00 L418.90,525.00 L418.40,525.00 L418.12,525.00 L418.02,525.00 L418.00,525.00 Z" fill="#287171" fill-opacity="0.75" clip-path="url(#fc2)"/>
<rect x="526" y="441.5" width="11.30" height="83.50" fill="#287171" fill-opacity="0.75"/>
<rect x="421.5" y="525.0" width="115.80" height="115.10" fill="#c94be8" fill-opacity="0.92"/>
<rect x="421.5" y="525" width="115.80" height="1" fill="rgb(205, 89, 234)"/>
<rect x="332.4" y="441.3" width="25.50" height="199.00" fill="#D9D9D9" stroke="#555" stroke-width="0.8"/>
<text x="340.3" y="547.0" font-size="13.4" fill="#1a1a1a" stroke="#1a1a1a" stroke-width="0.2" text-anchor="middle" transform="rotate(90 340.3 547.0)" >1</text>
<rect x="357.9" y="441.30" width="63.60" height="45.60" fill="#D9D9D9" stroke="#151515" stroke-width="0.85"/>
<text x="388.5" y="470.90000000000003" font-size="13.5" fill="#000" stroke="#000" stroke-width="0.2" text-anchor="middle" >Euploid</text>
<rect x="357.9" y="486.90" width="63.60" height="37.40" fill="#D9D9D9" stroke="#151515" stroke-width="0.85"/>
<text x="388.4" y="512.4" font-size="13.5" fill="#000" stroke="#000" stroke-width="0.2" text-anchor="middle" >Mosaic</text>
<rect x="357.9" y="524.30" width="63.60" height="116.00" fill="#D9D9D9" stroke="#151515" stroke-width="0.85"/>
<text x="390.0" y="589.0999999999999" font-size="13.5" fill="#000" stroke="#000" stroke-width="0.2" text-anchor="middle" >Aneuploid</text>
<rect x="537.3" y="441.30" width="63.80" height="45.60" fill="#D9D9D9" stroke="#151515" stroke-width="0.85"/>
<text x="567.85" y="470.90000000000003" font-size="13.5" fill="#000" stroke="#000" stroke-width="0.2" text-anchor="middle" >Euploid</text>
<rect x="537.3" y="486.90" width="63.80" height="37.40" fill="#D9D9D9" stroke="#151515" stroke-width="0.85"/>
<text x="567.75" y="512.4" font-size="13.5" fill="#000" stroke="#000" stroke-width="0.2" text-anchor="middle" >Mosaic</text>
<rect x="537.3" y="524.30" width="63.80" height="116.00" fill="#D9D9D9" stroke="#151515" stroke-width="0.85"/>
<text x="569.35" y="589.0999999999999" font-size="13.5" fill="#000" stroke="#000" stroke-width="0.2" text-anchor="middle" >Aneuploid</text>
<text x="391.7" y="660.7" font-size="17.0" fill="#000" stroke="#000" stroke-width="0.2" text-anchor="middle" >First</text>
<text x="391.6" y="676.7" font-size="17.0" fill="#000" stroke="#000" stroke-width="0.2" text-anchor="middle" >biopsy</text>
<text x="571.2" y="660.6" font-size="17.0" fill="#000" stroke="#000" stroke-width="0.2" text-anchor="middle" >Second</text>
<text x="570.8" y="676.5" font-size="17.0" fill="#000" stroke="#000" stroke-width="0.2" text-anchor="middle" >biopsy</text>
<text x="620.1" y="285.5" font-size="16.7" fill="#000" stroke="#000" stroke-width="0.2" text-anchor="start" >Embryo type</text>
<rect x="621.8" y="296.90" width="23.6" height="24.1" fill="#c95ae9"/>
<text x="654.8" y="313.0" font-size="13.4" fill="#000" stroke="#000" stroke-width="0.2" text-anchor="start" >Fully aneuploid</text>
<rect x="621.8" y="323.05" width="23.6" height="24.1" fill="#5a9594"/>
<text x="654.8" y="338.9" font-size="13.4" fill="#000" stroke="#000" stroke-width="0.2" text-anchor="start" >Mosaic aneuploid</text>
<rect x="621.8" y="349.20" width="23.6" height="24.1" fill="#ff9f3a"/>
<text x="654.8" y="364.0" font-size="13.4" fill="#000" stroke="#000" stroke-width="0.2" text-anchor="start" >Fully euploid</text>
</g>
</svg>
</body></html>
